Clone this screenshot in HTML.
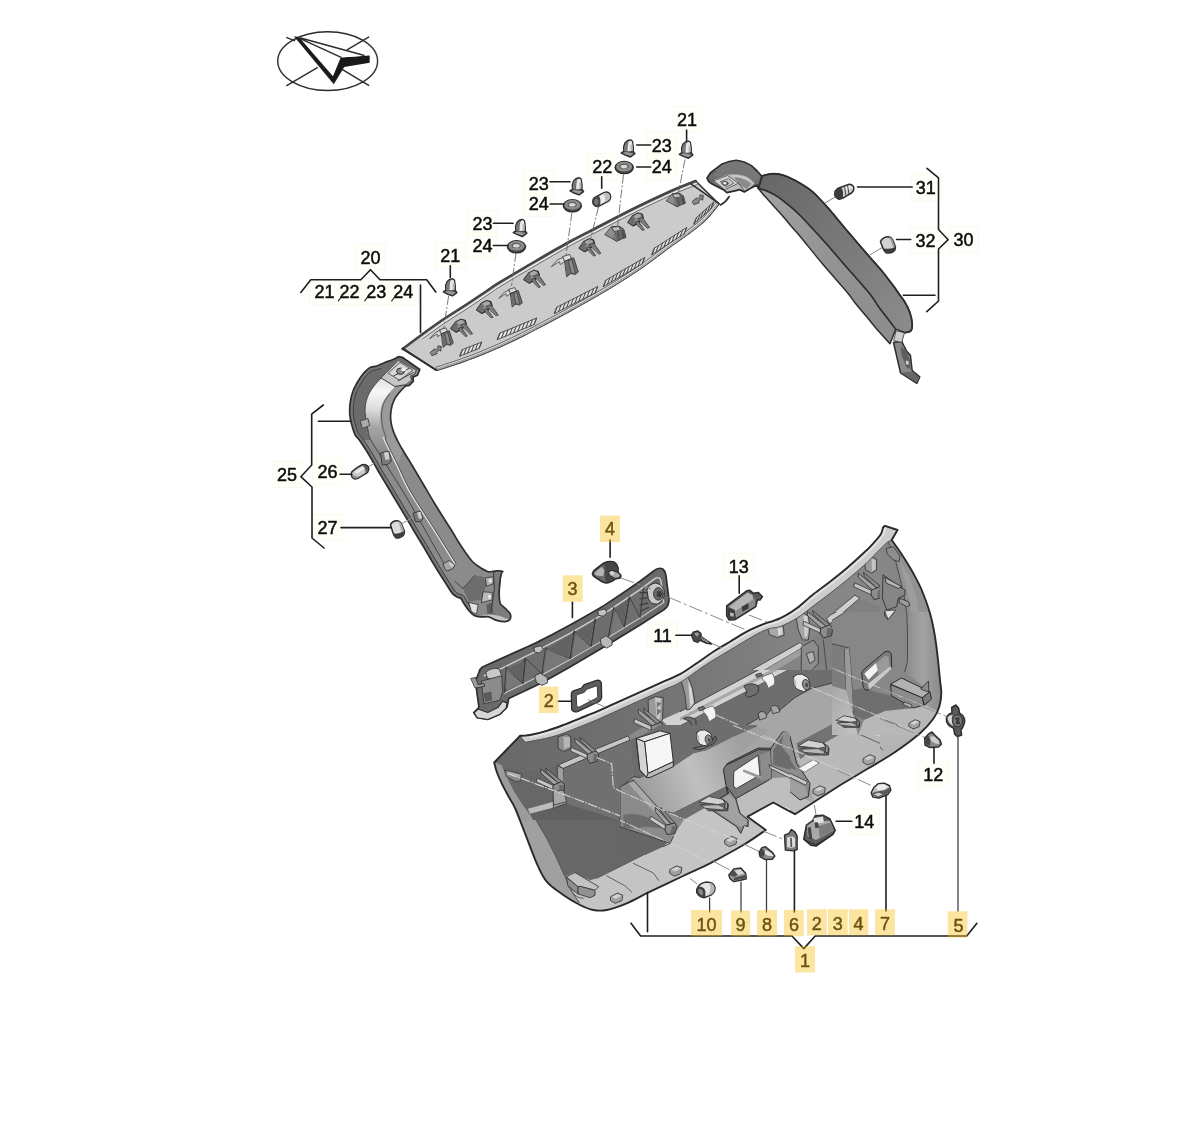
<!DOCTYPE html>
<html lang="en"><head><meta charset="utf-8"><title>Parts diagram</title>
<style>
html,body{margin:0;padding:0;background:#fff;}
body{width:1200px;height:1146px;overflow:hidden;font-family:"Liberation Sans",sans-serif;}
svg{display:block}
.ln{fill:none;stroke:#1e1e1e;stroke-width:1.6;stroke-linecap:round;stroke-linejoin:round}
.o{stroke:#2e2e2e;stroke-width:1.5;stroke-linejoin:round;stroke-linecap:round;vector-effect:non-scaling-stroke}
.t{stroke:#404040;stroke-width:0.9;stroke-linejoin:round;stroke-linecap:round;vector-effect:non-scaling-stroke}
path:not([fill]),ellipse:not([fill]){fill:none}
.n{stroke:none}
text{font-family:"Liberation Sans",sans-serif;font-size:18px;fill:#0c0c0c;text-anchor:middle;stroke:#0c0c0c;stroke-width:0.5px;stroke-linejoin:round}
.hl{fill:#f5be12;fill-opacity:0.4}
.fb{fill:#fffef2;fill-opacity:0.45;stroke:#f4f0d0;stroke-opacity:0.45;stroke-width:0.7}
</style></head><body>
<svg width="1200" height="1146" viewBox="0 0 1200 1146">
<rect width="1200" height="1146" fill="#fff"/>
<g id="art" style="filter:blur(0.45px)">
<!-- 00_compass.svg -->
<g transform="translate(260 20) scale(0.116667)">
<g fill="none" stroke="#2b2b2b" stroke-width="12">
<ellipse cx="580" cy="352" rx="428" ry="252"/>
<path d="M225 148 L300 178 M700 420 L935 562 M225 565 L495 405 M745 255 L935 145"/>
</g>
<path d="M290 140 L335 146 L625 480 L690 322 L940 305 L940 366 L722 402 L632 550 Z" fill="#1a1a1a"/>
<path d="M335 146 L625 480 L690 322 L890 306 Z" fill="#fff"/>
<path d="M340 152 L895 304 M340 158 L700 322" stroke="#2b2b2b" stroke-width="12" fill="none"/>
</g>

<!-- 05_fb.svg -->
<g id="fb"><rect class="fb" x="355.5" y="244.0" width="30" height="26"/><rect class="fb" x="309.5" y="278.8" width="30" height="26"/><rect class="fb" x="334.5" y="278.8" width="30" height="26"/><rect class="fb" x="361.2" y="278.8" width="30" height="26"/><rect class="fb" x="388.3" y="278.8" width="30" height="26"/><rect class="fb" x="435.3" y="242.2" width="30" height="26"/><rect class="fb" x="467.5" y="210.5" width="30" height="26"/><rect class="fb" x="467.5" y="232.2" width="30" height="26"/><rect class="fb" x="523.8" y="170.5" width="30" height="26"/><rect class="fb" x="523.8" y="190.5" width="30" height="26"/><rect class="fb" x="587.2" y="153.8" width="30" height="26"/><rect class="fb" x="672.0" y="106.2" width="30" height="26"/><rect class="fb" x="646.7" y="132.2" width="30" height="26"/><rect class="fb" x="646.7" y="153.8" width="30" height="26"/><rect class="fb" x="910.8" y="174.8" width="30" height="26"/><rect class="fb" x="910.5" y="227.2" width="30" height="26"/><rect class="fb" x="948.6" y="226.7" width="30" height="26"/><rect class="fb" x="272.0" y="461.3" width="30" height="26"/><rect class="fb" x="312.5" y="458.8" width="30" height="26"/><rect class="fb" x="312.5" y="514.5" width="30" height="26"/><rect class="fb" x="647.5" y="622.0" width="30" height="26"/><rect class="fb" x="723.8" y="553.2" width="30" height="26"/><rect class="fb" x="918.3" y="761.2" width="30" height="26"/><rect class="fb" x="849.2" y="808.8" width="30" height="26"/></g>

<!-- 10_panel20.svg -->
<path class="o" fill="#cbcbcb" d="M402.6 349.0 C405.6 346.8 414.2 340.2 420.7 335.5 C427.2 330.8 434.3 325.5 441.7 320.5 C449.1 315.5 457.6 310.3 465.0 305.5 C472.4 300.7 480.2 295.4 486.0 291.5 C491.8 287.6 491.8 287.2 500.0 282.2 C508.2 277.2 523.3 268.3 535.0 261.5 C546.7 254.7 559.2 247.4 570.0 241.5 C580.8 235.6 589.2 231.6 600.0 226.0 C610.8 220.4 623.3 213.8 635.0 208.0 C646.7 202.2 659.9 196.0 670.0 191.5 C680.1 187.0 691.4 182.8 695.7 181.0 L719 204 L719.0 204.0 C716.7 206.8 710.2 215.4 705.0 220.5 C699.8 225.6 693.3 230.1 687.5 234.5 C681.7 238.9 677.9 241.2 670.0 247.0 C662.1 252.8 650.8 261.6 640.0 269.0 C629.2 276.4 616.7 284.2 605.0 291.2 C593.3 298.2 581.7 304.6 570.0 311.0 C558.3 317.4 544.7 324.6 535.0 329.7 C525.3 334.8 519.8 337.6 512.0 341.3 C504.2 345.0 495.8 348.7 488.0 352.0 C480.2 355.3 473.5 357.9 465.0 361.0 C456.5 364.1 441.7 368.8 437.0 370.3 L436 370 Z"/>
<path class="t" fill="#e4e4e4" d="M719.0 204.0 C716.7 206.8 710.2 215.4 705.0 220.5 C699.8 225.6 693.3 230.1 687.5 234.5 C681.7 238.9 677.9 241.2 670.0 247.0 C662.1 252.8 650.8 261.6 640.0 269.0 C629.2 276.4 616.7 284.2 605.0 291.2 C593.3 298.2 581.7 304.6 570.0 311.0 C558.3 317.4 544.7 324.6 535.0 329.7 C525.3 334.8 519.8 337.6 512.0 341.3 C504.2 345.0 495.8 348.7 488.0 352.0 C480.2 355.3 473.5 357.9 465.0 361.0 C456.5 364.1 441.7 368.8 437.0 370.3 L436.0 367.3 C440.6 365.7 455.5 361.0 463.9 358.0 C472.4 355.0 479.0 352.3 486.8 349.0 C494.5 345.8 502.8 342.1 510.6 338.4 C518.4 334.7 523.9 331.9 533.5 326.9 C543.2 321.8 556.8 314.6 568.5 308.2 C580.1 301.8 591.7 295.4 603.4 288.5 C615.0 281.5 627.4 273.7 638.2 266.4 C649.0 259.0 660.2 250.1 668.1 244.4 C676.0 238.7 679.8 236.3 685.6 231.9 C691.3 227.6 697.6 223.2 702.8 218.2 C707.9 213.2 714.3 204.6 716.6 201.9 Z" style="stroke:#555"/>
<path class="t" fill="none" d="M718.0 203.2 C715.7 205.9 709.3 214.5 704.1 219.6 C698.9 224.6 692.5 229.1 686.7 233.5 C680.9 237.9 677.1 240.2 669.2 245.9 C661.3 251.7 650.1 260.6 639.3 267.9 C628.5 275.3 616.0 283.1 604.3 290.1 C592.7 297.1 581.0 303.5 569.4 309.9 C557.7 316.3 544.1 323.5 534.4 328.5 C524.7 333.6 519.3 336.4 511.4 340.1 C503.6 343.8 495.3 347.5 487.5 350.8 C479.7 354.1 473.0 356.7 464.6 359.8 C456.1 362.8 441.3 367.5 436.6 369.1" style="stroke:#8a8a8a;stroke-width:1"/>
<path class="o" fill="none" d="M402.6 349.0 C405.6 346.8 414.2 340.2 420.7 335.5 C427.2 330.8 434.3 325.5 441.7 320.5 C449.1 315.5 457.6 310.3 465.0 305.5 C472.4 300.7 480.2 295.4 486.0 291.5 C491.8 287.6 491.8 287.2 500.0 282.2 C508.2 277.2 523.3 268.3 535.0 261.5 C546.7 254.7 559.2 247.4 570.0 241.5 C580.8 235.6 589.2 231.6 600.0 226.0 C610.8 220.4 623.3 213.8 635.0 208.0 C646.7 202.2 659.9 196.0 670.0 191.5 C680.1 187.0 691.4 182.8 695.7 181.0" style="stroke-width:2.6;stroke:#454545"/>
<path class="t" fill="none" d="M422.2 337.6 C425.7 335.1 435.8 327.6 443.2 322.7 C450.5 317.7 459.0 312.5 466.4 307.7 C473.8 302.8 481.6 297.5 487.4 293.7 C493.3 289.8 493.2 289.4 501.4 284.4 C509.5 279.4 524.7 270.5 536.3 263.7 C548.0 257.0 560.4 249.7 571.2 243.8 C582.1 237.9 590.4 233.9 601.2 228.3 C612.0 222.7 624.5 216.1 636.1 210.3 C647.8 204.6 661.0 198.4 671.1 193.9 C681.1 189.4 692.4 185.2 696.7 183.4" style="stroke:#eee;stroke-width:1.1"/>
<path class="t" fill="none" d="M422.9 338.6 C426.4 336.1 436.5 328.6 443.8 323.6 C451.2 318.7 459.7 313.5 467.1 308.7 C474.5 303.8 482.3 298.5 488.1 294.7 C493.9 290.8 493.9 290.4 502.0 285.4 C510.1 280.5 525.3 271.6 536.9 264.8 C548.5 258.0 561.0 250.7 571.8 244.8 C582.6 238.9 590.9 234.9 601.7 229.4 C612.6 223.8 625.0 217.1 636.7 211.4 C648.3 205.7 661.5 199.5 671.5 195.0 C681.6 190.5 692.9 186.3 697.1 184.5" style="stroke:#555;stroke-width:0.8"/>
<path class="o" fill="none" d="M691 183.8 L719 203.7"/>
<path class="o" fill="none" d="M720.5 205 Q726 202 729.2 196.5" style="stroke-width:1.6"/>
<path class="o" fill="none" d="M402.6 348.3 L436 370" style="stroke-width:1.8"/>
<g transform="translate(430.0 327.3) scale(0.1167)"><path class="t" fill="#d8d8d8" d="M0 95 L45 45 L90 25 L105 55 L65 80 L60 60 Z" style="stroke:#555"/>
<path class="o" fill="#dcdcdc" d="M85 20 L135 5 L150 35 L100 55 Z" style="stroke-width:0.8"/>
<path class="o" fill="#6e6e6e" d="M100 55 L150 35 L165 30 L200 135 L175 155 L145 145 L115 170 Z" style="stroke-width:0.8"/>
<path class="n" fill="#8c8c8c" d="M128 60 L150 52 L172 140 L150 140 Z"/>
<path class="t" d="M125 50 L148 150 M152 40 L180 145" style="stroke:#4a4a4a"/></g>
<g transform="translate(451.0 319.2) scale(0.1167)"><path class="o" fill="#8a8a8a" d="M0 80 L40 25 L85 2 L120 10 L130 40 L95 80 L45 110 Z"/>
<path class="n" fill="#6c6c6c" d="M0 80 L40 25 L60 40 L45 110 Z"/>
<path class="n" fill="#a8a8a8" d="M45 25 L85 5 L115 15 L95 40 L65 45 Z"/>
<path class="o" fill="#7a7a7a" d="M85 50 L125 40 L185 125 L168 130 Z" style="stroke-width:0.7"/>
<path class="o" fill="#777" d="M60 80 L88 70 L140 145 L125 148 Z" style="stroke-width:0.7"/></g>
<g transform="translate(476.7 300.5) scale(0.1167)"><path class="o" fill="#8a8a8a" d="M0 80 L40 25 L85 2 L120 10 L130 40 L95 80 L45 110 Z"/>
<path class="n" fill="#6c6c6c" d="M0 80 L40 25 L60 40 L45 110 Z"/>
<path class="n" fill="#a8a8a8" d="M45 25 L85 5 L115 15 L95 40 L65 45 Z"/>
<path class="o" fill="#7a7a7a" d="M85 50 L125 40 L185 125 L168 130 Z" style="stroke-width:0.7"/>
<path class="o" fill="#777" d="M60 80 L88 70 L140 145 L125 148 Z" style="stroke-width:0.7"/></g>
<g transform="translate(499.0 287.0) scale(0.1167)"><path class="t" fill="#d8d8d8" d="M0 95 L45 45 L90 25 L105 55 L65 80 L60 60 Z" style="stroke:#555"/>
<path class="o" fill="#dcdcdc" d="M85 20 L135 5 L150 35 L100 55 Z" style="stroke-width:0.8"/>
<path class="o" fill="#6e6e6e" d="M100 55 L150 35 L165 30 L200 135 L175 155 L145 145 L115 170 Z" style="stroke-width:0.8"/>
<path class="n" fill="#8c8c8c" d="M128 60 L150 52 L172 140 L150 140 Z"/>
<path class="t" d="M125 50 L148 150 M152 40 L180 145" style="stroke:#4a4a4a"/></g>
<g transform="translate(524.0 270.2) scale(0.1167)"><path class="o" fill="#8a8a8a" d="M0 80 L40 25 L85 2 L120 10 L130 40 L95 80 L45 110 Z"/>
<path class="n" fill="#6c6c6c" d="M0 80 L40 25 L60 40 L45 110 Z"/>
<path class="n" fill="#a8a8a8" d="M45 25 L85 5 L115 15 L95 40 L65 45 Z"/>
<path class="o" fill="#7a7a7a" d="M85 50 L125 40 L185 125 L168 130 Z" style="stroke-width:0.7"/>
<path class="o" fill="#777" d="M60 80 L88 70 L140 145 L125 148 Z" style="stroke-width:0.7"/></g>
<g transform="translate(551.5 253.8) scale(0.1342)"><path class="t" fill="#d8d8d8" d="M0 95 L45 45 L90 25 L105 55 L65 80 L60 60 Z" style="stroke:#555"/>
<path class="o" fill="#dcdcdc" d="M85 20 L135 5 L150 35 L100 55 Z" style="stroke-width:0.8"/>
<path class="o" fill="#6e6e6e" d="M100 55 L150 35 L165 30 L200 135 L175 155 L145 145 L115 170 Z" style="stroke-width:0.8"/>
<path class="n" fill="#8c8c8c" d="M128 60 L150 52 L172 140 L150 140 Z"/>
<path class="t" d="M125 50 L148 150 M152 40 L180 145" style="stroke:#4a4a4a"/></g>
<g transform="translate(579.3 238.7) scale(0.1167)"><path class="o" fill="#8a8a8a" d="M0 80 L40 25 L85 2 L120 10 L130 40 L95 80 L45 110 Z"/>
<path class="n" fill="#6c6c6c" d="M0 80 L40 25 L60 40 L45 110 Z"/>
<path class="n" fill="#a8a8a8" d="M45 25 L85 5 L115 15 L95 40 L65 45 Z"/>
<path class="o" fill="#7a7a7a" d="M85 50 L125 40 L185 125 L168 130 Z" style="stroke-width:0.7"/>
<path class="o" fill="#777" d="M60 80 L88 70 L140 145 L125 148 Z" style="stroke-width:0.7"/></g>
<g transform="translate(605.0 226.2) scale(0.1167)"><path class="o" fill="#7d7d7d" d="M0 70 L55 5 L120 0 L160 25 L180 95 L140 110 L100 130 L60 105 Z" style="stroke-width:0.9"/>
<path class="n" fill="#8e8e8e" d="M2 70 L55 8 L80 45 L62 103 Z"/>
<path class="o" fill="#bdbdbd" d="M60 8 L120 3 L135 35 L80 45 Z" style="stroke-width:0.7"/>
<path class="n" fill="#5c5c5c" d="M135 36 L160 27 L178 94 L142 108 Z"/>
<path class="n" fill="#6a6a6a" d="M80 46 L135 36 L142 108 L100 128 Z"/>
<path class="t" d="M110 42 L120 118 M150 32 L165 100" style="stroke:#444"/></g>
<g transform="translate(628.0 213.0) scale(0.1167)"><path class="o" fill="#8a8a8a" d="M0 80 L40 25 L85 2 L120 10 L130 40 L95 80 L45 110 Z"/>
<path class="n" fill="#6c6c6c" d="M0 80 L40 25 L60 40 L45 110 Z"/>
<path class="n" fill="#a8a8a8" d="M45 25 L85 5 L115 15 L95 40 L65 45 Z"/>
<path class="o" fill="#7a7a7a" d="M85 50 L125 40 L185 125 L168 130 Z" style="stroke-width:0.7"/>
<path class="o" fill="#777" d="M60 80 L88 70 L140 145 L125 148 Z" style="stroke-width:0.7"/></g>
<g transform="translate(666.5 193.2) scale(0.1050)"><path class="o" fill="#7d7d7d" d="M0 70 L55 5 L120 0 L160 25 L180 95 L140 110 L100 130 L60 105 Z" style="stroke-width:0.9"/>
<path class="n" fill="#8e8e8e" d="M2 70 L55 8 L80 45 L62 103 Z"/>
<path class="o" fill="#bdbdbd" d="M60 8 L120 3 L135 35 L80 45 Z" style="stroke-width:0.7"/>
<path class="n" fill="#5c5c5c" d="M135 36 L160 27 L178 94 L142 108 Z"/>
<path class="n" fill="#6a6a6a" d="M80 46 L135 36 L142 108 L100 128 Z"/>
<path class="t" d="M110 42 L120 118 M150 32 L165 100" style="stroke:#444"/></g>
<path class="o" fill="#8a8a8a" style="stroke-width:0.8" d="M430.5 352.3 l4 -3.5 l0.8 1.2 l3 -2.6 l-0.6 -1.5 l3.6 0.6 l-0.6 4.8 l-1.2 -1.4 l-3 2.6 l0.7 1.2 l-5 1.8 Z"/>
<path class="o" fill="#8a8a8a" style="stroke-width:0.8" d="M692.5 201.3 l4 -3.5 l0.8 1.2 l3 -2.6 l-0.6 -1.5 l3.6 0.6 l-0.6 4.8 l-1.2 -1.4 l-3 2.6 l0.7 1.2 l-5 1.8 Z"/>
<path class="t" fill="#e6e6e6" d="M460.0 356.0 L479.0 348.5 l2.6 -6.4 L462.6 349.6 Z" style="stroke:#444;stroke-width:0.9"/>
<path class="t" d="M460.0 356.0 l2.6 -6.4 M463.8 354.5 l2.6 -6.4 M467.6 353.0 l2.6 -6.4 M471.4 351.5 l2.6 -6.4 M475.2 350.0 l2.6 -6.4 M479.0 348.5 l2.6 -6.4 " style="stroke:#4a4a4a;stroke-width:1.05"/>
<path class="t" fill="#e6e6e6" d="M497.5 339.5 L534.0 324.5 l2.6 -6.4 L500.1 333.1 Z" style="stroke:#444;stroke-width:0.9"/>
<path class="t" d="M497.5 339.5 l2.6 -6.4 M501.6 337.8 l2.6 -6.4 M505.6 336.2 l2.6 -6.4 M509.7 334.5 l2.6 -6.4 M513.7 332.8 l2.6 -6.4 M517.8 331.2 l2.6 -6.4 M521.8 329.5 l2.6 -6.4 M525.9 327.8 l2.6 -6.4 M529.9 326.2 l2.6 -6.4 M534.0 324.5 l2.6 -6.4 " style="stroke:#4a4a4a;stroke-width:1.05"/>
<path class="t" fill="#e6e6e6" d="M554.5 313.5 L595.0 293.0 l2.6 -6.4 L557.1 307.1 Z" style="stroke:#444;stroke-width:0.9"/>
<path class="t" d="M554.5 313.5 l2.6 -6.4 M558.5 311.4 l2.6 -6.4 M562.6 309.4 l2.6 -6.4 M566.6 307.4 l2.6 -6.4 M570.7 305.3 l2.6 -6.4 M574.8 303.2 l2.6 -6.4 M578.8 301.2 l2.6 -6.4 M582.9 299.1 l2.6 -6.4 M586.9 297.1 l2.6 -6.4 M591.0 295.1 l2.6 -6.4 M595.0 293.0 l2.6 -6.4 " style="stroke:#4a4a4a;stroke-width:1.05"/>
<path class="t" fill="#e6e6e6" d="M603.5 286.5 L642.0 264.0 l2.6 -6.4 L606.1 280.1 Z" style="stroke:#444;stroke-width:0.9"/>
<path class="t" d="M603.5 286.5 l2.6 -6.4 M607.4 284.2 l2.6 -6.4 M611.2 282.0 l2.6 -6.4 M615.0 279.8 l2.6 -6.4 M618.9 277.5 l2.6 -6.4 M622.8 275.2 l2.6 -6.4 M626.6 273.0 l2.6 -6.4 M630.5 270.8 l2.6 -6.4 M634.3 268.5 l2.6 -6.4 M638.1 266.2 l2.6 -6.4 M642.0 264.0 l2.6 -6.4 " style="stroke:#4a4a4a;stroke-width:1.05"/>
<path class="t" fill="#e6e6e6" d="M652.0 254.5 L684.0 234.0 l2.6 -6.4 L654.6 248.1 Z" style="stroke:#444;stroke-width:0.9"/>
<path class="t" d="M652.0 254.5 l2.6 -6.4 M656.0 251.9 l2.6 -6.4 M660.0 249.4 l2.6 -6.4 M664.0 246.8 l2.6 -6.4 M668.0 244.2 l2.6 -6.4 M672.0 241.7 l2.6 -6.4 M676.0 239.1 l2.6 -6.4 M680.0 236.6 l2.6 -6.4 M684.0 234.0 l2.6 -6.4 " style="stroke:#4a4a4a;stroke-width:1.05"/>
<path class="t" fill="#e6e6e6" d="M694.0 224.0 L711.0 208.5 l2.6 -6.4 L696.6 217.6 Z" style="stroke:#444;stroke-width:0.9"/>
<path class="t" d="M694.0 224.0 l2.6 -6.4 M697.4 220.9 l2.6 -6.4 M700.8 217.8 l2.6 -6.4 M704.2 214.7 l2.6 -6.4 M707.6 211.6 l2.6 -6.4 M711.0 208.5 l2.6 -6.4 " style="stroke:#4a4a4a;stroke-width:1.05"/>

<!-- 20_small_top.svg -->
<defs><linearGradient id="cyl" x1="0" y1="0" x2="1" y2="0"><stop offset="0" stop-color="#9a9a9a"/><stop offset="0.45" stop-color="#f4f4f4"/><stop offset="1" stop-color="#8a8a8a"/></linearGradient></defs>
<g fill="none" stroke="#6a6a6a" stroke-width="0.9" stroke-dasharray="9 2 2 2">
<path d="M448.6 296 L443.8 328"/>
<path d="M516 253 L511.5 286"/>
<path d="M572 212.5 L566 255"/>
<path d="M598.5 207 L590 241"/>
<path d="M623.5 174.5 L617.5 227"/>
<path d="M685 159.5 L678.5 192.5"/>
</g>
<g transform="translate(443.3 278.8) scale(0.1167)"><path class="o" fill="#4e4e4e" d="M0 112 L22 98 L20 60 L32 25 L55 5 L80 0 L95 12 L102 60 L102 98 L116 118 L78 146 L40 132 Z"/>
<path class="n" fill="#7a7a7a" d="M24 95 L24 60 L36 28 L55 10 L62 14 L50 50 L48 100 Z"/>
<path class="n" fill="#e8e8e8" d="M62 14 L80 5 L92 16 L96 60 L96 92 L70 98 L52 98 L54 50 Z"/>
<path class="n" fill="#b5b5b5" d="M80 40 L96 40 L96 92 L80 96 Z"/>
<path class="n" fill="#9a9a9a" d="M10 112 L40 104 L78 112 L106 116 L78 138 L42 126 Z"/></g>
<g transform="translate(513.3 219.5) scale(0.1167)"><path class="o" fill="#4e4e4e" d="M0 112 L22 98 L20 60 L32 25 L55 5 L80 0 L95 12 L102 60 L102 98 L116 118 L78 146 L40 132 Z"/>
<path class="n" fill="#7a7a7a" d="M24 95 L24 60 L36 28 L55 10 L62 14 L50 50 L48 100 Z"/>
<path class="n" fill="#e8e8e8" d="M62 14 L80 5 L92 16 L96 60 L96 92 L70 98 L52 98 L54 50 Z"/>
<path class="n" fill="#b5b5b5" d="M80 40 L96 40 L96 92 L80 96 Z"/>
<path class="n" fill="#9a9a9a" d="M10 112 L40 104 L78 112 L106 116 L78 138 L42 126 Z"/></g>
<g transform="translate(570.0 177.8) scale(0.1167)"><path class="o" fill="#4e4e4e" d="M0 112 L22 98 L20 60 L32 25 L55 5 L80 0 L95 12 L102 60 L102 98 L116 118 L78 146 L40 132 Z"/>
<path class="n" fill="#7a7a7a" d="M24 95 L24 60 L36 28 L55 10 L62 14 L50 50 L48 100 Z"/>
<path class="n" fill="#e8e8e8" d="M62 14 L80 5 L92 16 L96 60 L96 92 L70 98 L52 98 L54 50 Z"/>
<path class="n" fill="#b5b5b5" d="M80 40 L96 40 L96 92 L80 96 Z"/>
<path class="n" fill="#9a9a9a" d="M10 112 L40 104 L78 112 L106 116 L78 138 L42 126 Z"/></g>
<g transform="translate(621.3 139.9) scale(0.1167)"><path class="o" fill="#4e4e4e" d="M0 112 L22 98 L20 60 L32 25 L55 5 L80 0 L95 12 L102 60 L102 98 L116 118 L78 146 L40 132 Z"/>
<path class="n" fill="#7a7a7a" d="M24 95 L24 60 L36 28 L55 10 L62 14 L50 50 L48 100 Z"/>
<path class="n" fill="#e8e8e8" d="M62 14 L80 5 L92 16 L96 60 L96 92 L70 98 L52 98 L54 50 Z"/>
<path class="n" fill="#b5b5b5" d="M80 40 L96 40 L96 92 L80 96 Z"/>
<path class="n" fill="#9a9a9a" d="M10 112 L40 104 L78 112 L106 116 L78 138 L42 126 Z"/></g>
<g transform="translate(679.3 141.2) scale(0.1167)"><path class="o" fill="#4e4e4e" d="M0 112 L22 98 L20 60 L32 25 L55 5 L80 0 L95 12 L102 60 L102 98 L116 118 L78 146 L40 132 Z"/>
<path class="n" fill="#7a7a7a" d="M24 95 L24 60 L36 28 L55 10 L62 14 L50 50 L48 100 Z"/>
<path class="n" fill="#e8e8e8" d="M62 14 L80 5 L92 16 L96 60 L96 92 L70 98 L52 98 L54 50 Z"/>
<path class="n" fill="#b5b5b5" d="M80 40 L96 40 L96 92 L80 96 Z"/>
<path class="n" fill="#9a9a9a" d="M10 112 L40 104 L78 112 L106 116 L78 138 L42 126 Z"/></g>
<ellipse cx="516.5" cy="246.8" rx="9" ry="6" fill="#4a4a4a" class="o"/>
<ellipse cx="516.5" cy="245.9" rx="8" ry="4.9" fill="#8c8c8c"/>
<ellipse cx="516.2" cy="245.5" rx="4.6" ry="2.6" fill="#5a5a5a"/>
<ellipse cx="516.3" cy="245.8" rx="3.4" ry="1.8" fill="#d8d8d8"/>
<ellipse cx="572.4" cy="205.8" rx="9" ry="6" fill="#4a4a4a" class="o"/>
<ellipse cx="572.4" cy="204.9" rx="8" ry="4.9" fill="#8c8c8c"/>
<ellipse cx="572.1" cy="204.5" rx="4.6" ry="2.6" fill="#5a5a5a"/>
<ellipse cx="572.2" cy="204.8" rx="3.4" ry="1.8" fill="#d8d8d8"/>
<ellipse cx="624.2" cy="167.6" rx="9" ry="6" fill="#4a4a4a" class="o"/>
<ellipse cx="624.2" cy="166.7" rx="8" ry="4.9" fill="#8c8c8c"/>
<ellipse cx="623.9" cy="166.3" rx="4.6" ry="2.6" fill="#5a5a5a"/>
<ellipse cx="624.0" cy="166.6" rx="3.4" ry="1.8" fill="#d8d8d8"/>
<g transform="translate(592.7 191.8) scale(0.1167)"><path class="o" fill="#eee" d="M15 50 L100 5 Q135 -5 150 25 Q160 60 135 80 L50 125 Q15 130 3 100 Q-5 70 15 50 Z"/>
<path class="n" fill="#bdbdbd" d="M90 12 Q130 0 146 28 Q154 58 132 76 L100 92 Q118 60 90 12Z"/>
<path class="n" fill="#4a4a4a" d="M15 50 L50 32 Q75 60 62 118 L50 125 Q15 130 3 100 Q-5 70 15 50 Z"/>
<path class="n" fill="#777" d="M22 62 Q40 55 48 75 Q52 100 40 112 Q22 112 15 95 Q12 75 22 62Z"/></g>
<g class="ln">
<path d="M493.3 223.3 H513"/>
<path d="M493.3 245.5 H507.5"/>
<path d="M550 181.7 H570"/>
<path d="M550 204 H563.5"/>
<path d="M601.7 176.7 V188.3"/>
<path d="M636.7 145 H650.7"/>
<path d="M636.7 167 H650.7"/>
<path d="M686.6 130 V140.5"/>
</g>

<!-- 30_arm30.svg -->
<defs><linearGradient id="a30t" gradientUnits="userSpaceOnUse" x1="765" y1="175" x2="905" y2="330"><stop offset="0" stop-color="#676767"/><stop offset="0.35" stop-color="#747474"/><stop offset="1" stop-color="#8b8b8b"/></linearGradient>
<linearGradient id="a30s" gradientUnits="userSpaceOnUse" x1="765" y1="190" x2="890" y2="340"><stop offset="0" stop-color="#a0a0a0"/><stop offset="0.5" stop-color="#939393"/><stop offset="1" stop-color="#8d8d8d"/></linearGradient></defs>
<g transform="translate(820.00 290.00) scale(0.11667)"><path class="o" fill="#8a8a8a" d="M630 450 L690 710 L830 800 L855 745 L790 690 L775 560 L740 520 L700 440 Z"/>
<path class="n" fill="#5e5e5e" d="M690 480 L745 530 L770 600 L775 680 L740 660 L700 560 Z"/>
<path class="n" fill="#cfcfcf" d="M735 605 L760 610 L760 640 L738 636 Z"/>
<path class="n" fill="#666" d="M700 712 L830 795 L850 750 L800 705 L760 700 Z"/>
<path class="o" fill="#cdcdcd" d="M655 350 L725 365 L700 450 L635 435 Z" style="stroke-width:0.8"/></g>
<path class="o" fill="url(#a30s)" d="M758.3 188.5 C759.5 188.8 762.6 189.2 765.3 190.3 C768.0 191.4 771.6 193.1 774.7 194.9 C777.8 196.7 779.8 197.9 784.0 201.3 C788.2 204.7 793.5 208.7 800.0 215.2 C806.5 221.7 815.5 231.6 823.3 240.3 C831.1 249.0 838.9 258.2 846.7 267.2 C854.5 276.1 864.7 287.5 870.0 294.0 C875.3 300.5 875.0 301.7 878.3 306.3 C881.6 310.9 887.1 317.7 890.0 321.5 C892.9 325.3 894.8 327.8 895.8 329.1 L890 343.7 L890.0 343.7 C888.0 341.6 882.2 335.3 878.3 330.8 C874.4 326.3 870.6 321.5 866.7 316.8 C862.8 312.1 858.3 307.0 855.0 302.8 C851.7 298.6 852.0 298.0 846.7 291.7 C841.4 285.4 831.1 274.1 823.3 264.8 C815.5 255.6 805.3 242.5 800.0 236.2 C794.7 229.8 794.5 229.9 791.7 226.7 C788.9 223.4 786.1 219.9 783.3 216.7 C780.5 213.5 777.8 210.6 775.0 207.5 C772.2 204.4 768.9 200.7 766.7 198.3 C764.5 195.9 763.4 194.7 762.0 193.0 C760.6 191.3 758.9 189.1 758.3 188.3 Z"/>
<path class="o" fill="url(#a30t)" d="M762.5 175.8 C763.9 175.5 768.0 174.1 770.8 173.8 C773.6 173.5 776.4 173.7 779.2 174.2 C782.0 174.7 784.7 175.6 787.5 176.7 C790.3 177.8 793.0 179.3 795.8 180.8 C798.6 182.3 801.4 184.0 804.2 185.8 C807.0 187.6 809.7 189.3 812.5 191.7 C815.3 194.1 818.0 197.1 820.8 200.0 C823.6 202.9 826.4 206.0 829.2 209.2 C832.0 212.4 834.7 215.9 837.5 219.2 C840.3 222.5 840.6 223.0 845.8 229.2 C851.0 235.3 862.8 249.2 868.8 256.1 C874.8 263.0 877.6 265.8 881.7 270.7 C885.8 275.6 890.3 281.8 893.3 285.8 C896.3 289.8 897.6 291.9 899.5 294.5 C901.4 297.1 902.8 298.6 904.5 301.5 C906.2 304.4 908.5 308.5 909.8 312.2 C911.1 315.9 912.0 320.7 912.2 323.8 C912.4 326.9 912.2 329.3 911.0 330.8 C909.8 332.3 906.2 332.3 905.2 332.6 L895.8 329.1 L895.8 329.1 C894.8 327.8 892.9 325.3 890.0 321.5 C887.1 317.7 881.6 310.9 878.3 306.3 C875.0 301.7 875.3 300.5 870.0 294.0 C864.7 287.5 854.5 276.1 846.7 267.2 C838.9 258.2 831.1 249.0 823.3 240.3 C815.5 231.6 806.5 221.7 800.0 215.2 C793.5 208.7 788.2 204.7 784.0 201.3 C779.8 197.9 777.8 196.7 774.7 194.9 C771.6 193.1 768.0 191.4 765.3 190.3 C762.6 189.2 759.5 188.8 758.3 188.5 Z"/>
<path class="o" fill="none" d="M762.5 175.8 C763.9 175.5 768.0 174.1 770.8 173.8 C773.6 173.5 776.4 173.7 779.2 174.2 C782.0 174.7 784.7 175.6 787.5 176.7 C790.3 177.8 793.0 179.3 795.8 180.8 C798.6 182.3 801.4 184.0 804.2 185.8 C807.0 187.6 809.7 189.3 812.5 191.7 C815.3 194.1 818.0 197.1 820.8 200.0 C823.6 202.9 826.4 206.0 829.2 209.2 C832.0 212.4 834.7 215.9 837.5 219.2 C840.3 222.5 840.6 223.0 845.8 229.2 C851.0 235.3 862.8 249.2 868.8 256.1 C874.8 263.0 877.6 265.8 881.7 270.7 C885.8 275.6 890.3 281.8 893.3 285.8 C896.3 289.8 897.6 291.9 899.5 294.5 C901.4 297.1 902.8 298.6 904.5 301.5 C906.2 304.4 908.5 308.5 909.8 312.2 C911.1 315.9 912.0 320.7 912.2 323.8 C912.4 326.9 912.2 329.3 911.0 330.8 C909.8 332.3 906.2 332.3 905.2 332.6" style="stroke-width:1.7"/>
<g transform="translate(700.00 150.00) scale(0.11667)"><path class="o" fill="#6d6d6d" d="M60 240 L90 195 L130 165 L190 120 Q250 92 310 88 Q380 95 440 135 L490 180 L530 225 L500 330 L490 300 L430 330 L380 360 L340 340 L300 350 L230 365 L200 340 L100 290 L75 270 Z" style="stroke-width:1.7"/>
<path class="n" fill="#777" d="M95 200 L190 128 Q250 100 310 96 Q380 103 436 140 L520 228 L470 285 Q440 240 380 215 Q300 195 220 208 L140 232 Z"/>
<path class="n" fill="#bdbdbd" d="M105 262 L225 212 Q300 200 380 220 Q440 245 468 288 L430 322 L380 350 L340 330 L300 340 L232 356 L205 332 Z"/>
<path class="t" fill="#d2d2d2" d="M120 262 L235 218 L330 285 L215 338 Z" style="stroke:#555"/>
<path class="t" fill="#c4c4c4" d="M175 270 L245 245 L290 285 L225 318 Z" style="stroke:#666"/>
<ellipse cx="215" cy="286" rx="26" ry="17" fill="#8a8a8a" class="t" style="stroke:#444"/>
<ellipse cx="212" cy="284" rx="13" ry="9" fill="#f2f2f2"/>
<path class="t" d="M330 285 L380 350 M105 262 L120 262 M100 205 L125 185 L135 192" style="stroke:#444"/>
<path class="n" fill="#8a8a8a" d="M300 228 Q380 240 440 290 L400 335 L345 300 L300 245 Z"/>
<path class="n" fill="#c9c9c9" d="M280 215 Q360 215 440 262 L450 280 Q380 240 300 232 Z"/></g>

<!-- 40_arm25.svg -->
<defs><linearGradient id="a25l" gradientUnits="userSpaceOnUse" x1="385" y1="378" x2="378" y2="450"><stop offset="0" stop-color="#dedede"/><stop offset="0.2" stop-color="#f7f7f7"/><stop offset="0.45" stop-color="#dadada"/><stop offset="0.7" stop-color="#a4a4a4"/><stop offset="1" stop-color="#8c8c8c"/></linearGradient></defs>
<path class="n" fill="#8b8b8b" d="M398.3 356.7 C397.4 357.2 395.2 358.6 393.0 359.6 C390.8 360.6 387.6 361.4 384.8 362.5 C382.1 363.6 379.2 365.1 376.7 366.0 C374.1 366.9 371.8 366.6 369.7 367.8 C367.5 368.9 365.8 370.8 363.8 373.0 C361.9 375.2 359.8 378.1 358.0 381.2 C356.2 384.3 354.1 388.0 352.8 391.7 C351.4 395.4 350.6 399.4 350.1 403.3 C349.6 407.2 349.6 411.5 349.8 415.0 C350.1 418.5 350.7 421.0 351.6 424.3 C352.5 427.6 353.8 432.2 355.1 434.8 C356.4 437.4 356.9 436.6 359.3 440.0 C361.6 443.4 366.0 449.9 369.2 455.2 C372.4 460.4 375.2 465.9 378.5 471.5 C381.8 477.1 385.5 483.2 389.0 489.0 C392.5 494.8 396.0 500.7 399.5 506.5 C403.0 512.3 407.7 520.1 410.0 524.0 C412.3 527.9 411.2 526.3 413.4 530.0 C415.6 533.7 419.7 540.3 423.3 546.3 C426.9 552.4 431.1 559.8 435.0 566.2 C438.9 572.6 443.8 580.3 446.7 584.8 C449.6 589.4 450.8 591.5 452.5 593.6 C454.3 595.6 455.8 596.3 457.2 597.1 C458.5 597.9 459.6 597.3 460.7 598.3 C461.7 599.2 462.2 600.9 463.6 602.9 C464.9 605.0 467.0 608.4 468.8 610.5 C470.7 612.6 472.5 614.7 474.7 615.8 C476.8 616.8 479.3 616.7 481.7 616.9 C484.0 617.1 486.1 616.3 488.7 616.9 C491.2 617.5 494.1 619.6 496.8 620.4 C499.6 621.2 502.9 621.7 505.0 621.6 C507.1 621.5 508.8 621.1 509.7 619.8 C510.5 618.6 511.0 615.9 510.3 614.0 C509.5 612.1 506.7 609.9 505.0 608.2 C503.4 606.4 501.3 605.6 500.3 603.5 C499.4 601.4 499.3 598.8 499.2 595.3 C499.1 591.8 499.4 586.2 499.8 582.5 C500.1 578.8 501.0 575.0 501.5 573.2 C502.0 571.3 503.4 571.8 502.7 571.4 C501.9 571.0 497.8 570.9 496.8 570.8 L488.7 572 L488.7 572.0 C487.5 571.4 484.4 570.3 481.7 568.5 C478.9 566.8 475.1 564.2 472.3 561.5 C469.6 558.8 467.7 555.5 465.3 552.2 C463.0 548.9 460.7 545.4 458.3 541.7 C456.0 538.0 455.1 536.1 451.3 530.0 C447.6 523.9 440.2 512.8 435.7 505.3 C431.1 497.9 427.9 492.1 424.0 485.5 C420.1 478.9 415.8 471.5 412.3 465.7 C408.8 459.8 405.5 454.8 403.0 450.5 C400.5 446.2 398.8 443.4 397.2 440.0 C395.5 436.6 394.1 433.6 393.0 430.2 C391.9 426.8 391.0 423.2 390.7 419.7 C390.4 416.2 390.7 412.5 391.3 409.2 C391.8 405.9 392.7 402.8 394.2 399.8 C395.6 396.9 398.1 394.0 400.0 391.7 C401.9 389.3 404.9 386.8 405.8 385.8 L409.3 385.3 L413.4 381.2 L412.8 377.1 L417.5 375.3 L419.8 369.5 L402.3 357.3 Z"/>
<path class="n" fill="#6b6b6b" d="M398.3 356.7 C397.4 357.2 395.2 358.6 393.0 359.6 C390.8 360.6 387.6 361.4 384.8 362.5 C382.1 363.6 379.2 365.1 376.7 366.0 C374.1 366.9 371.8 366.6 369.7 367.8 C367.5 368.9 365.8 370.8 363.8 373.0 C361.9 375.2 359.8 378.1 358.0 381.2 C356.2 384.3 354.1 388.0 352.8 391.7 C351.4 395.4 350.6 399.4 350.1 403.3 C349.6 407.2 349.6 411.5 349.8 415.0 C350.1 418.5 350.7 421.0 351.6 424.3 C352.5 427.6 353.8 432.2 355.1 434.8 C356.4 437.4 358.6 439.1 359.3 440.0 L370.9 440.0 C370.5 438.8 369.3 435.7 368.5 432.5 C367.7 429.3 366.8 424.7 366.2 420.8 C365.6 416.9 364.8 413.1 365.0 409.2 C365.2 405.3 366.0 401.2 367.3 397.5 C368.7 393.8 370.8 390.3 373.2 387.0 C375.5 383.7 380.0 379.2 381.3 377.7 Z"/>
<path class="n" fill="#767676" d="M384.8 362.5 C383.5 363.1 379.2 365.1 376.7 366.0 C374.1 366.9 371.8 366.6 369.7 367.8 C367.5 368.9 365.8 370.8 363.8 373.0 C361.9 375.2 359.8 378.1 358.0 381.2 C356.2 384.3 354.1 388.0 352.8 391.7 C351.4 395.4 350.6 399.4 350.1 403.3 C349.6 407.2 349.6 411.5 349.8 415.0 C350.1 418.5 350.7 421.0 351.6 424.3 C352.5 427.6 353.8 432.2 355.1 434.8 C356.4 437.4 356.9 436.6 359.3 440.0 C361.6 443.4 366.0 449.9 369.2 455.2 C372.4 460.4 375.2 465.9 378.5 471.5 C381.8 477.1 385.5 483.2 389.0 489.0 C392.5 494.8 396.0 500.7 399.5 506.5 C403.0 512.3 407.7 520.1 410.0 524.0 C412.3 527.9 411.2 526.3 413.4 530.0 C415.6 533.7 419.7 540.3 423.3 546.3 C426.9 552.4 431.1 559.8 435.0 566.2 C438.9 572.6 443.8 580.3 446.7 584.8 C449.6 589.4 450.8 591.5 452.5 593.6 C454.3 595.6 455.8 596.3 457.2 597.1 C458.5 597.9 459.6 597.3 460.7 598.3 C461.7 599.2 462.2 600.9 463.6 602.9 C464.9 605.0 468.0 609.2 468.8 610.5 L471.8 608.5 C470.9 607.2 468.0 603.1 466.6 600.9 C465.1 598.8 464.4 596.8 463.1 595.6 C461.8 594.4 460.3 594.7 459.0 594.0 C457.6 593.2 456.8 593.1 455.2 591.2 C453.7 589.4 452.6 587.4 449.7 582.9 C446.8 578.4 442.0 570.7 438.1 564.3 C434.2 557.9 430.0 550.5 426.4 544.5 C422.8 538.5 418.7 531.9 416.5 528.2 C414.3 524.4 415.4 526.1 413.1 522.2 C410.8 518.3 406.1 510.5 402.6 504.7 C399.1 498.8 395.6 493.0 392.1 487.2 C388.6 481.3 384.9 475.3 381.6 469.7 C378.3 464.0 375.5 458.6 372.2 453.3 C369.0 448.0 364.5 441.3 362.2 437.9 C359.9 434.6 359.5 435.7 358.3 433.3 C357.1 430.8 355.9 426.5 355.1 423.4 C354.2 420.3 353.7 418.0 353.4 414.7 C353.2 411.5 353.2 407.4 353.6 403.8 C354.1 400.1 354.9 396.3 356.1 392.9 C357.4 389.4 359.4 385.9 361.1 383.0 C362.8 380.1 364.8 377.4 366.6 375.4 C368.3 373.3 369.5 371.9 371.4 370.9 C373.3 369.9 375.4 370.3 377.8 369.4 C380.3 368.6 384.9 366.4 386.3 365.8 Z"/>
<path class="n" fill="#9a9a9a" d="M405.8 385.8 C404.9 386.8 401.9 389.3 400.0 391.7 C398.1 394.0 395.6 396.9 394.2 399.8 C392.7 402.8 391.8 405.9 391.3 409.2 C390.7 412.5 390.4 416.2 390.7 419.7 C391.0 423.2 391.9 426.8 393.0 430.2 C394.1 433.6 395.5 436.6 397.2 440.0 C398.8 443.4 402.0 448.8 403.0 450.5 L397.2 466.3 C395.0 461.9 386.4 444.7 384.3 440.0 C382.3 435.3 385.3 440.6 384.8 438.3 C384.3 436.1 382.1 430.6 381.3 426.7 C380.6 422.8 380.0 418.9 380.2 415.0 C380.4 411.1 381.1 406.8 382.5 403.3 C383.9 399.8 386.2 396.8 388.3 394.0 C390.5 391.2 394.2 387.7 395.3 386.4 Z"/>
<path class="n" fill="url(#a25l)" d="M381.3 377.7 C380.0 379.2 375.5 383.7 373.2 387.0 C370.8 390.3 368.7 393.8 367.3 397.5 C366.0 401.2 365.2 405.3 365.0 409.2 C364.8 413.1 365.6 416.9 366.2 420.8 C366.8 424.7 367.7 429.3 368.5 432.5 C369.3 435.7 367.9 434.5 370.9 440.0 C373.9 445.5 384.0 461.4 386.7 465.7 L397.2 466.3 C395.0 461.9 386.4 444.7 384.3 440.0 C382.3 435.3 385.3 440.6 384.8 438.3 C384.3 436.1 382.1 430.6 381.3 426.7 C380.6 422.8 380.0 418.9 380.2 415.0 C380.4 411.1 381.1 406.8 382.5 403.3 C383.9 399.8 386.2 396.8 388.3 394.0 C390.5 391.2 394.2 387.7 395.3 386.4 Z"/>
<path class="t" fill="none" d="M386.3 365.8 C384.9 366.4 380.3 368.6 377.8 369.4 C375.4 370.3 373.3 369.9 371.4 370.9 C369.5 371.9 368.3 373.3 366.6 375.4 C364.8 377.4 362.8 380.1 361.1 383.0 C359.4 385.9 357.4 389.4 356.1 392.9 C354.9 396.3 354.1 400.1 353.6 403.8 C353.2 407.4 353.2 411.5 353.4 414.7 C353.7 418.0 354.2 420.3 355.1 423.4 C355.9 426.5 357.1 430.8 358.3 433.3 C359.5 435.7 359.9 434.6 362.2 437.9 C364.5 441.3 369.0 448.0 372.2 453.3 C375.5 458.6 378.3 464.0 381.6 469.7 C384.9 475.3 388.6 481.3 392.1 487.2 C395.6 493.0 399.1 498.8 402.6 504.7 C406.1 510.5 410.8 518.3 413.1 522.2 C415.4 526.1 414.3 524.4 416.5 528.2 C418.7 531.9 422.8 538.5 426.4 544.5 C430.0 550.5 434.2 557.9 438.1 564.3 C442.0 570.7 446.8 578.4 449.7 582.9 C452.6 587.4 453.7 589.4 455.2 591.2 C456.8 593.1 457.6 593.2 459.0 594.0 C460.3 594.7 461.8 594.4 463.1 595.6 C464.4 596.8 465.1 598.8 466.6 600.9 C468.0 603.1 470.9 607.2 471.8 608.5" style="stroke:#3c3c3c;stroke-width:1"/>
<path class="t" fill="none" d="M381.3 377.7 C380.0 379.2 375.5 383.7 373.2 387.0 C370.8 390.3 368.7 393.8 367.3 397.5 C366.0 401.2 365.2 405.3 365.0 409.2 C364.8 413.1 365.6 416.9 366.2 420.8 C366.8 424.7 367.7 429.3 368.5 432.5 C369.3 435.7 367.9 434.5 370.9 440.0 C373.9 445.5 381.2 456.9 386.7 465.7 C392.1 474.4 397.2 481.8 403.6 492.5 C410.0 503.2 417.9 517.3 425.1 530.0 C432.2 542.6 443.1 562.1 446.7 568.5" style="stroke:#444;stroke-width:1"/>
<path class="t" fill="none" d="M384.8 438.3 C384.8 438.6 382.3 435.3 384.3 440.0 C386.4 444.7 392.9 457.5 397.2 466.3 C401.4 475.0 403.9 481.9 410.0 492.5 C416.1 503.1 426.3 518.1 433.8 530.0 C441.3 541.8 451.3 558.2 454.8 563.8" style="stroke:#e4e4e4;stroke-width:1.3"/>
<path class="t" fill="none" d="M389.6 394.0 C388.7 395.6 385.2 399.8 383.8 403.3 C382.4 406.8 381.7 411.1 381.5 415.0 C381.3 418.9 381.9 422.8 382.6 426.7 C383.4 430.6 385.6 436.1 386.1 438.3 C386.6 440.6 383.6 435.3 385.6 440.0 C387.7 444.7 394.2 457.5 398.5 466.3 C402.7 475.0 405.2 481.9 411.3 492.5 C417.4 503.1 427.6 518.1 435.1 530.0 C442.6 541.8 452.6 558.2 456.1 563.8" style="stroke:#4a4a4a;stroke-width:0.8"/>
<g transform="translate(330.00 345.00) scale(0.11667)"><path class="o" fill="#c6c6c6" d="M440 280 L585 130 L740 215 L725 250 L690 265 L700 300 L650 340 L560 355 Z" style="stroke-width:0.9"/>
<path class="n" fill="#6c6c6c" d="M585 100 L440 165 L440 280 L585 130 L740 215 L770 210 L620 105 Z"/>
<path class="t" fill="#d6d6d6" d="M500 240 L600 150 L710 215 L600 300 Z" style="stroke:#555"/>
<path class="t" d="M545 265 L680 200 M585 305 L715 235" style="stroke:#444;stroke-width:1"/>
<ellipse cx="605" cy="225" rx="34" ry="27" fill="#8c8c8c" class="t" style="stroke:#333;stroke-width:1"/>
<ellipse cx="630" cy="210" rx="22" ry="15" fill="#f4f4f4"/>
<path class="n" fill="#808080" d="M650 340 L700 300 L715 310 L680 345 Z"/>
<path class="t" fill="#a9a9a9" d="M262 650 L325 630 L340 690 L280 715 Z" style="stroke:#4a4a4a;stroke-width:1"/>
</g>
<g transform="translate(400.00 530.00) scale(0.11667)"><path class="n" fill="#6d6d6d" d="M540 500 L640 390 L720 400 L740 480 L690 600 L590 610 Z"/>
<path class="t" d="M540 500 L640 390 M540 500 L470 440" style="stroke:#444"/>
<path class="n" fill="#7c7c7c" d="M800 370 L870 365 L852 560 L860 630 L940 720 L935 770 L830 770 L780 700 L800 500 Z"/>
<path class="n" fill="#5e5e5e" d="M740 640 L790 620 L800 720 L750 730 Z"/>
<path class="o" fill="#e4e4e4" d="M590 620 L670 640 L655 722 L615 700 Z" style="stroke-width:0.8"/>
<path class="o" fill="#b5b5b5" d="M735 410 L800 400 L800 460 L745 482 Z" style="stroke-width:0.8"/>
<path class="o" fill="#b9b9b9" d="M715 530 L790 535 L790 600 L700 622 Z" style="stroke-width:0.8"/>
<path class="n" fill="#f0f0f0" d="M760 425 L785 420 L785 445 L765 450 Z M755 560 L780 558 L778 585 L760 590 Z"/>
<path class="n" fill="#c4c4c4" d="M700 738 L760 722 L850 735 L935 768 L900 782 L830 772 L760 745 Z"/>
<path class="t" d="M800 370 L810 500 L780 700 M830 350 L800 370" style="stroke:#3c3c3c;stroke-width:1"/>
<path class="t" fill="#a6a6a6" d="M370 290 L420 262 L470 300 L455 330 L410 350 L390 340 Z" style="stroke:#444;stroke-width:1"/>
<path class="n" fill="#d4d4d4" d="M422 268 L462 300 L452 322 L425 300 Z"/></g>
<g transform="translate(340.00 440.00) scale(0.11667)"><path class="t" fill="#7a7a7a" d="M350 110 L420 95 L440 180 L410 210 L365 215 Z" style="stroke:#3c3c3c;stroke-width:1"/>
<path class="n" fill="#cfcfcf" d="M375 110 L415 100 L425 165 L390 172 Z"/>
<path class="t" fill="#7a7a7a" d="M630 625 L690 610 L712 675 L690 700 L650 700 Z" style="stroke:#3c3c3c;stroke-width:1"/>
<path class="n" fill="#cfcfcf" d="M660 622 L690 615 L705 670 L678 676 Z"/></g>
<path class="o" fill="none" d="M398.3 356.7 C397.4 357.2 395.2 358.6 393.0 359.6 C390.8 360.6 387.6 361.4 384.8 362.5 C382.1 363.6 379.2 365.1 376.7 366.0 C374.1 366.9 371.8 366.6 369.7 367.8 C367.5 368.9 365.8 370.8 363.8 373.0 C361.9 375.2 359.8 378.1 358.0 381.2 C356.2 384.3 354.1 388.0 352.8 391.7 C351.4 395.4 350.6 399.4 350.1 403.3 C349.6 407.2 349.6 411.5 349.8 415.0 C350.1 418.5 350.7 421.0 351.6 424.3 C352.5 427.6 353.8 432.2 355.1 434.8 C356.4 437.4 356.9 436.6 359.3 440.0 C361.6 443.4 366.0 449.9 369.2 455.2 C372.4 460.4 375.2 465.9 378.5 471.5 C381.8 477.1 385.5 483.2 389.0 489.0 C392.5 494.8 396.0 500.7 399.5 506.5 C403.0 512.3 407.7 520.1 410.0 524.0 C412.3 527.9 411.2 526.3 413.4 530.0 C415.6 533.7 419.7 540.3 423.3 546.3 C426.9 552.4 431.1 559.8 435.0 566.2 C438.9 572.6 443.8 580.3 446.7 584.8 C449.6 589.4 450.8 591.5 452.5 593.6 C454.3 595.6 455.8 596.3 457.2 597.1 C458.5 597.9 459.6 597.3 460.7 598.3 C461.7 599.2 462.2 600.9 463.6 602.9 C464.9 605.0 467.0 608.4 468.8 610.5 C470.7 612.6 472.5 614.7 474.7 615.8 C476.8 616.8 479.3 616.7 481.7 616.9 C484.0 617.1 486.1 616.3 488.7 616.9 C491.2 617.5 494.1 619.6 496.8 620.4 C499.6 621.2 502.9 621.7 505.0 621.6 C507.1 621.5 508.8 621.1 509.7 619.8 C510.5 618.6 511.0 615.9 510.3 614.0 C509.5 612.1 506.7 609.9 505.0 608.2 C503.4 606.4 501.3 605.6 500.3 603.5 C499.4 601.4 499.3 598.8 499.2 595.3 C499.1 591.8 499.4 586.2 499.8 582.5 C500.1 578.8 501.0 575.0 501.5 573.2 C502.0 571.3 503.4 571.8 502.7 571.4 C501.9 571.0 497.8 570.9 496.8 570.8 L488.7 572 L488.7 572.0 C487.5 571.4 484.4 570.3 481.7 568.5 C478.9 566.8 475.1 564.2 472.3 561.5 C469.6 558.8 467.7 555.5 465.3 552.2 C463.0 548.9 460.7 545.4 458.3 541.7 C456.0 538.0 455.1 536.1 451.3 530.0 C447.6 523.9 440.2 512.8 435.7 505.3 C431.1 497.9 427.9 492.1 424.0 485.5 C420.1 478.9 415.8 471.5 412.3 465.7 C408.8 459.8 405.5 454.8 403.0 450.5 C400.5 446.2 398.8 443.4 397.2 440.0 C395.5 436.6 394.1 433.6 393.0 430.2 C391.9 426.8 391.0 423.2 390.7 419.7 C390.4 416.2 390.7 412.5 391.3 409.2 C391.8 405.9 392.7 402.8 394.2 399.8 C395.6 396.9 398.1 394.0 400.0 391.7 C401.9 389.3 404.9 386.8 405.8 385.8 L409.3 385.3 L413.4 381.2 L412.8 377.1 L417.5 375.3 L419.8 369.5 L402.3 357.3 Z" style="stroke-width:1.7;stroke:#2e2e2e"/>

<!-- 50_main.svg -->
<defs><clipPath id="silc"><path d="M520.0 735.8 C521.7 735.7 525.6 735.8 530.0 735.0 C534.4 734.2 541.1 732.5 546.7 730.8 C552.2 729.2 557.8 727.1 563.3 725.0 C568.9 722.9 574.4 720.6 580.0 718.3 C585.6 716.1 591.1 714.0 596.7 711.7 C602.2 709.3 607.8 706.7 613.3 704.2 C618.9 701.7 624.4 699.2 630.0 696.7 C635.6 694.2 641.1 691.7 646.7 689.2 C652.2 686.7 657.8 684.2 663.3 681.7 C668.9 679.2 674.4 677.2 680.0 674.2 C685.6 671.1 691.1 667.1 696.7 663.3 C702.2 659.6 707.8 655.3 713.3 651.7 C718.9 648.1 724.4 645.0 730.0 641.7 C735.6 638.3 741.1 634.6 746.7 631.7 C752.2 628.8 758.9 626.0 763.3 624.2 C767.8 622.4 770.0 622.1 773.3 620.8 C776.7 619.6 779.4 618.8 783.3 616.7 C787.2 614.6 791.7 612.1 796.7 608.3 C801.7 604.6 807.8 598.6 813.3 594.2 C818.9 589.7 824.4 586.0 830.0 581.7 C835.6 577.4 841.1 573.1 846.7 568.3 C852.2 563.6 858.9 557.5 863.3 553.3 C867.8 549.2 870.4 546.5 873.3 543.3 C876.2 540.1 879.2 536.8 880.8 534.2 C882.4 531.5 882.6 528.6 883.0 527.5 L885.0 525.8 L897.5 530.0 L891.7 540.0 L891.7 540.0 C893.6 542.8 899.7 551.1 903.3 556.7 C906.9 562.2 910.3 567.8 913.3 573.3 C916.4 578.9 918.9 583.3 921.7 590.0 C924.4 596.7 927.8 605.6 930.0 613.3 C932.2 621.1 933.7 628.9 935.0 636.7 C936.3 644.4 937.2 652.8 938.0 660.0 C938.8 667.2 939.5 674.5 940.0 680.0 C940.5 685.5 941.4 688.8 941.3 693.3 C941.2 697.8 940.6 702.5 939.3 706.7 C938.0 710.9 936.5 714.3 933.3 718.7 C930.1 723.1 926.7 727.5 920.0 733.3 C913.3 739.1 902.2 747.3 893.3 753.3 C884.4 759.3 875.6 764.0 866.7 769.3 C857.8 774.6 844.5 782.6 840.0 785.3 L795 814.2 L773.3 802.5 L747.5 816.7 L765.8 830 L765.8 830.0 C762.0 832.5 752.6 839.5 743.3 845.0 C734.0 850.5 720.0 858.1 710.0 863.3 C700.0 868.5 693.0 871.3 683.0 876.0 C673.0 880.7 659.4 887.2 650.0 891.7 C640.6 896.2 633.9 900.2 626.7 903.3 C619.5 906.3 612.3 908.9 606.7 910.0 C601.1 911.1 597.8 910.8 593.3 910.0 C588.8 909.2 585.0 907.5 580.0 905.0 C575.0 902.5 568.8 898.9 563.3 895.0 C557.8 891.1 551.1 887.0 546.7 881.7 C542.3 876.4 540.3 871.4 536.7 863.3 C533.1 855.2 528.6 842.5 525.0 833.3 C521.4 824.1 517.8 814.2 515.0 808.0 C512.2 801.8 510.5 800.1 508.3 796.0 C506.1 791.9 503.6 787.3 501.7 783.3 C499.8 779.2 497.9 775.2 496.7 771.7 C495.4 768.2 494.6 764.0 494.2 762.5 L520 735.8 Z"/></clipPath></defs>
<path class="n" fill="#8a8a8a" d="M520.0 735.8 C521.7 735.7 525.6 735.8 530.0 735.0 C534.4 734.2 541.1 732.5 546.7 730.8 C552.2 729.2 557.8 727.1 563.3 725.0 C568.9 722.9 574.4 720.6 580.0 718.3 C585.6 716.1 591.1 714.0 596.7 711.7 C602.2 709.3 607.8 706.7 613.3 704.2 C618.9 701.7 624.4 699.2 630.0 696.7 C635.6 694.2 641.1 691.7 646.7 689.2 C652.2 686.7 657.8 684.2 663.3 681.7 C668.9 679.2 674.4 677.2 680.0 674.2 C685.6 671.1 691.1 667.1 696.7 663.3 C702.2 659.6 707.8 655.3 713.3 651.7 C718.9 648.1 724.4 645.0 730.0 641.7 C735.6 638.3 741.1 634.6 746.7 631.7 C752.2 628.8 758.9 626.0 763.3 624.2 C767.8 622.4 770.0 622.1 773.3 620.8 C776.7 619.6 779.4 618.8 783.3 616.7 C787.2 614.6 791.7 612.1 796.7 608.3 C801.7 604.6 807.8 598.6 813.3 594.2 C818.9 589.7 824.4 586.0 830.0 581.7 C835.6 577.4 841.1 573.1 846.7 568.3 C852.2 563.6 858.9 557.5 863.3 553.3 C867.8 549.2 870.4 546.5 873.3 543.3 C876.2 540.1 879.2 536.8 880.8 534.2 C882.4 531.5 882.6 528.6 883.0 527.5 L885.0 525.8 L897.5 530.0 L891.7 540.0 L891.7 540.0 C893.6 542.8 899.7 551.1 903.3 556.7 C906.9 562.2 910.3 567.8 913.3 573.3 C916.4 578.9 918.9 583.3 921.7 590.0 C924.4 596.7 927.8 605.6 930.0 613.3 C932.2 621.1 933.7 628.9 935.0 636.7 C936.3 644.4 937.2 652.8 938.0 660.0 C938.8 667.2 939.5 674.5 940.0 680.0 C940.5 685.5 941.4 688.8 941.3 693.3 C941.2 697.8 940.6 702.5 939.3 706.7 C938.0 710.9 936.5 714.3 933.3 718.7 C930.1 723.1 926.7 727.5 920.0 733.3 C913.3 739.1 902.2 747.3 893.3 753.3 C884.4 759.3 875.6 764.0 866.7 769.3 C857.8 774.6 844.5 782.6 840.0 785.3 L795 814.2 L773.3 802.5 L747.5 816.7 L765.8 830 L765.8 830.0 C762.0 832.5 752.6 839.5 743.3 845.0 C734.0 850.5 720.0 858.1 710.0 863.3 C700.0 868.5 693.0 871.3 683.0 876.0 C673.0 880.7 659.4 887.2 650.0 891.7 C640.6 896.2 633.9 900.2 626.7 903.3 C619.5 906.3 612.3 908.9 606.7 910.0 C601.1 911.1 597.8 910.8 593.3 910.0 C588.8 909.2 585.0 907.5 580.0 905.0 C575.0 902.5 568.8 898.9 563.3 895.0 C557.8 891.1 551.1 887.0 546.7 881.7 C542.3 876.4 540.3 871.4 536.7 863.3 C533.1 855.2 528.6 842.5 525.0 833.3 C521.4 824.1 517.8 814.2 515.0 808.0 C512.2 801.8 510.5 800.1 508.3 796.0 C506.1 791.9 503.6 787.3 501.7 783.3 C499.8 779.2 497.9 775.2 496.7 771.7 C495.4 768.2 494.6 764.0 494.2 762.5 L520 735.8 Z"/>
<g clip-path="url(#silc)" id="main-int">
<clipPath id="wA"><rect x="480" y="670" width="200" height="150"/></clipPath>
<g clip-path="url(#wA)"><g transform="translate(480.00 670.00) scale(0.16667)">
<defs><linearGradient id="bwA" gradientUnits="userSpaceOnUse" x1="240" y1="0" x2="2520" y2="0"><stop offset="0" stop-color="#6a6a6a"/><stop offset="0.32" stop-color="#717171"/><stop offset="0.55" stop-color="#7b7b7b"/><stop offset="0.75" stop-color="#858585"/><stop offset="1" stop-color="#888"/></linearGradient></defs>
<path class="n" fill="url(#bwA)" d="M60 560 L240 380 L1200 0 L1200 340 L1100 340 L1000 330 L900 390 L560 530 L470 570 L400 592 L250 602 L130 572 Z"/>
<path class="n" fill="#9b9b9b" d="M60 540 L130 572 L150 620 L200 720 L250 800 L300 870 L320 900 L200 900 Z"/>
<path class="n" fill="#676767" d="M130 572 L250 602 L400 592 L470 570 L465 750 L440 830 L290 832 L300 870 L250 800 L200 720 L150 620 Z"/>
<path class="n" fill="#bcbcbc" d="M288 832 L440 790 L440 826 L300 862 Z"/>
<path class="n" fill="#606060" d="M300 862 L440 826 L520 800 L850 905 L320 905 Z"/>
<path class="t" fill="#9d9d9d" d="M465 575 L500 590 L510 760 L520 800 L440 830 L440 760 L465 750 Z" style="stroke:#3c3c3c"/>
<path class="n" fill="#707070" d="M500 590 L580 555 L900 420 L920 640 L850 700 L840 905 L520 800 L510 760 Z"/>
<path class="t" fill="#c6c6c6" d="M470 570 L560 530 L890 395 L900 420 L580 555 L500 590 Z" style="stroke:#3c3c3c"/>
<path class="n" fill="#6c6c6c" d="M900 420 L940 400 L960 600 L1000 650 L920 640 Z"/>
<path class="n" fill="#9b9b9b" d="M850 700 L920 640 L1000 650 L1020 650 L1160 580 L1200 560 L1200 905 L840 905 Z"/>

<path class="n" fill="#d2d2d2" d="M1090 300 L1200 250 L1200 335 L1150 360 Z"/><path class="n" fill="#6e6e6e" d="M1150 360 L1200 335 L1200 545 L1160 560 Z"/>
<path class="t" d="M850 700 L840 905 M920 640 L850 700 M1000 650 L920 640" style="stroke:#3a3a3a"/>
<!-- white box -->
<path class="o" fill="#d2d2d2" d="M940 420 L985 440 L1010 620 L1000 650 L960 600 Z" style="stroke-width:1"/>
<path class="o" fill="#e4e4e4" d="M940 420 L1080 365 L1140 380 L985 440 Z" style="stroke-width:1"/>
<path class="o" fill="#f5f5f5" d="M985 440 L1140 380 L1160 550 L1010 620 Z" style="stroke-width:1"/>
<path class="o" fill="#bdbdbd" d="M1010 620 L1160 550 L1160 580 L1020 650 L1000 650 Z" style="stroke-width:1"/>
<!-- rib behind -->
<path class="t" fill="#9a9a9a" d="M1010 180 L1050 160 L1100 165 L1095 300 L1060 330 L1015 300 Z" style="stroke:#3c3c3c"/>
<path class="n" fill="#c8c8c8" d="M1050 165 L1085 170 L1082 290 L1060 300 Z"/>
<path class="n" fill="#777" d="M1060 190 L1090 200 L1060 230 L1090 245 L1062 275 Z"/>
<!-- block at 470-540 -->
<path class="t" fill="#8e8e8e" d="M470 400 L520 385 L545 400 L545 470 L500 490 L470 470 Z" style="stroke:#3c3c3c"/>
<path class="n" fill="#b5b5b5" d="M500 400 L540 405 L540 460 L505 475 Z"/>
<!-- slot at far left -->
<path class="t" fill="#8a8a8a" d="M150 600 L250 625 L245 665 L215 670 L160 640 Z" style="stroke:#444"/>
<path class="n" fill="#b0b0b0" d="M165 607 L240 628 L238 645 L170 625 Z"/>
<g transform="translate(560 405) scale(1.00)">
<path class="t" fill="#c6c6c6" d="M-10 60 L90 105 L85 128 L-15 82 Z" style="stroke:#444"/>
<path class="t" fill="#a2a2a2" d="M10 5 L120 92 L92 102 L12 30 Z" style="stroke:#3c3c3c"/>
<path class="t" fill="#8a8a8a" d="M40 0 L140 82 L118 92 L45 22 Z" style="stroke:#3c3c3c"/>
<path class="t" fill="#8c8c8c" d="M85 100 L135 80 L152 96 L146 142 L100 155 L84 130 Z" style="stroke:#333;stroke-width:1"/>
<path class="n" fill="#6a6a6a" d="M122 100 L150 98 L145 140 L118 146 Z"/>
</g><g transform="translate(940 230) scale(1.05)">
<path class="t" fill="#c6c6c6" d="M-10 60 L90 105 L85 128 L-15 82 Z" style="stroke:#444"/>
<path class="t" fill="#a2a2a2" d="M10 5 L120 92 L92 102 L12 30 Z" style="stroke:#3c3c3c"/>
<path class="t" fill="#8a8a8a" d="M40 0 L140 82 L118 92 L45 22 Z" style="stroke:#3c3c3c"/>
<path class="t" fill="#8c8c8c" d="M85 100 L135 80 L152 96 L146 142 L100 155 L84 130 Z" style="stroke:#333;stroke-width:1"/>
<path class="n" fill="#6a6a6a" d="M122 100 L150 98 L145 140 L118 146 Z"/>
</g><g transform="translate(355 590) scale(1.00)">
<path class="t" fill="#c6c6c6" d="M-10 60 L90 105 L85 128 L-15 82 Z" style="stroke:#444"/>
<path class="t" fill="#a2a2a2" d="M10 5 L120 92 L92 102 L12 30 Z" style="stroke:#3c3c3c"/>
<path class="t" fill="#8a8a8a" d="M40 0 L140 82 L118 92 L45 22 Z" style="stroke:#3c3c3c"/>
<path class="t" fill="#8c8c8c" d="M85 100 L135 80 L152 96 L146 142 L100 155 L84 130 Z" style="stroke:#333;stroke-width:1"/>
<path class="n" fill="#6a6a6a" d="M122 100 L150 98 L145 140 L118 146 Z"/>
</g>
<!-- small block below clip -->
<path class="t" fill="#a8a8a8" d="M440 730 L500 720 L520 790 L445 810 Z" style="stroke:#444"/>
<!-- dashed leaders -->
<g fill="none" stroke="#d2d2d2" stroke-width="7" stroke-dasharray="60 8 10 8">
<path d="M700 525 L790 562 L800 705 L835 725 L1200 870"/>
<path d="M165 622 L260 655 L500 745 L840 875 L1200 1010"/>
</g>
</g></g><clipPath id="wB"><rect x="680" y="520" width="200" height="150"/></clipPath>
<g clip-path="url(#wB)"><g transform="translate(680.00 520.00) scale(0.16667)">
<defs><linearGradient id="bwB" gradientUnits="userSpaceOnUse" x1="-960" y1="0" x2="1320" y2="0"><stop offset="0" stop-color="#6a6a6a"/><stop offset="0.32" stop-color="#717171"/><stop offset="0.55" stop-color="#7b7b7b"/><stop offset="0.75" stop-color="#858585"/><stop offset="1" stop-color="#888"/></linearGradient></defs>
<path class="n" fill="url(#bwB)" d="M0 1000 L0 800 L1200 0 L1200 900 Z"/>
<!-- light rail bottom-left -->
<path class="t" fill="#cfcfcf" d="M420 905 L720 735 L745 760 L500 905 Z" style="stroke:#444"/>
<path class="n" fill="#9e9e9e" d="M500 905 L745 760 L760 790 L570 905 Z"/>
<!-- notch block -->
<path class="t" fill="#a8a8a8" d="M525 640 L590 625 L620 640 L625 690 L585 705 L540 690 Z" style="stroke:#3c3c3c"/>
<path class="n" fill="#d8d8d8" d="M585 650 L612 645 L615 685 L590 695 Z"/>
<!-- vertical rib -->
<path class="t" fill="#a5a5a5" d="M700 590 L740 560 L770 575 L780 640 L770 720 L735 720 L710 660 Z" style="stroke:#3c3c3c"/>
<path class="n" fill="#d2d2d2" d="M742 570 L765 580 L770 640 L762 700 L748 700 Z"/>
<!-- right lower wall -->
<path class="n" fill="#808080" d="M800 700 L900 620 L1075 470 L1200 520 L1200 905 L820 905 Z"/>
<path class="t" fill="#cfcfcf" d="M880 590 L1050 450 L1078 470 L900 622 Z" style="stroke:#444"/>
<path class="t" d="M860 720 L880 905 M1020 780 L1025 905 M960 905 L1000 790 L1020 780" style="stroke:#444"/>
<path class="t" fill="#8c8c8c" d="M730 760 L800 720 L830 760 L830 860 L790 905 L730 905 Z" style="stroke:#3c3c3c"/>
<path class="t" fill="#b0b0b0" d="M760 800 L800 790 L810 840 L780 860 Z" style="stroke:#3c3c3c"/>
<!-- block top right -->
<path class="t" fill="#9a9a9a" d="M1110 250 L1150 220 L1180 235 L1180 300 L1150 320 L1115 300 Z" style="stroke:#3c3c3c"/>
<path class="n" fill="#c4c4c4" d="M1150 232 L1174 242 L1174 295 L1152 308 Z"/>
<g transform="translate(755 545) scale(1.05)">
<path class="t" fill="#c6c6c6" d="M-10 60 L90 105 L85 128 L-15 82 Z" style="stroke:#444"/>
<path class="t" fill="#a2a2a2" d="M10 5 L120 92 L92 102 L12 30 Z" style="stroke:#3c3c3c"/>
<path class="t" fill="#8a8a8a" d="M40 0 L140 82 L118 92 L45 22 Z" style="stroke:#3c3c3c"/>
<path class="t" fill="#8c8c8c" d="M85 100 L135 80 L152 96 L146 142 L100 155 L84 130 Z" style="stroke:#333;stroke-width:1"/>
<path class="n" fill="#6a6a6a" d="M122 100 L150 98 L145 140 L118 146 Z"/>
</g><g transform="translate(1060 315) scale(1.05)">
<path class="t" fill="#c6c6c6" d="M-10 60 L90 105 L85 128 L-15 82 Z" style="stroke:#444"/>
<path class="t" fill="#a2a2a2" d="M10 5 L120 92 L92 102 L12 30 Z" style="stroke:#3c3c3c"/>
<path class="t" fill="#8a8a8a" d="M40 0 L140 82 L118 92 L45 22 Z" style="stroke:#3c3c3c"/>
<path class="t" fill="#8c8c8c" d="M85 100 L135 80 L152 96 L146 142 L100 155 L84 130 Z" style="stroke:#333;stroke-width:1"/>
<path class="n" fill="#6a6a6a" d="M122 100 L150 98 L145 140 L118 146 Z"/>
</g>
</g></g><clipPath id="wC"><rect x="880" y="520" width="200" height="150"/></clipPath><clipPath id="wE"><rect x="880" y="670" width="200" height="150"/></clipPath>
<g clip-path="url(#wC)"><g transform="translate(880.00 520.00) scale(0.16667)">
<path class="n" fill="#868686" d="M0 0 L400 0 L400 905 L0 905 Z"/>
<path class="n" fill="#929292" d="M50 130 L90 230 L120 350 L150 480 L165 600 L160 750 L150 905 L400 905 L400 0 L70 100 Z"/>
<path class="n" fill="#9d9d9d" d="M110 220 L170 330 L215 450 L240 600 L250 750 L250 905 L200 905 L200 750 L195 600 L170 450 L140 330 Z"/>
<path class="t" d="M50 130 L90 230 L120 350 L150 480 L165 600 L160 750 L150 905" style="stroke:#444"/>
<path class="t" fill="#8e8e8e" d="M40 170 L80 160 L120 215 L115 250 L80 240 L45 205 Z" style="stroke:#3c3c3c"/>
<path class="t" fill="#858585" d="M20 330 L110 395 L150 420 L150 450 L110 470 L100 520 L40 540 L15 470 Z" style="stroke:#333"/>
<path class="t" fill="#b5b5b5" d="M30 345 L130 400 L110 410 L40 380 Z" style="stroke:#333"/>
<path class="t" fill="#9c9c9c" d="M120 470 L170 490 L180 512 L160 520 L115 495 Z" style="stroke:#333"/>
<path class="t" fill="#e2e2e2" d="M30 545 L95 540 L45 598 Z" style="stroke:#444"/>
<path class="t" fill="#a5a5a5" d="M0 800 L50 785 L62 810 L60 905 L0 905 Z" style="stroke:#444"/>
</g></g>
<g clip-path="url(#wE)"><g transform="translate(880.00 670.00) scale(0.16667)">
<path class="n" fill="#b4b4b4" d="M0 0 L400 0 L400 905 L0 905 Z"/>
<path class="n" fill="#858585" d="M0 0 L400 0 L400 150 L330 260 L300 200 L130 200 L60 170 L0 200 Z"/>
<path class="n" fill="#929292" d="M150 0 L400 0 L400 300 L300 300 L330 200 L340 100 L300 0 Z"/>
<path class="n" fill="#8a8a8a" d="M0 180 L60 170 L180 225 L140 250 L0 210 Z"/>
<path class="t" fill="#9a9a9a" d="M60 90 L130 40 L300 130 L310 180 L270 215 L240 200 L65 125 Z" style="stroke:#333"/>
<path class="t" fill="#b2b2b2" d="M60 90 L130 40 L300 130 L245 160 Z" style="stroke:#333"/>
<path class="t" fill="#7a7a7a" d="M245 160 L300 130 L310 180 L270 215 L248 200 Z" style="stroke:#333"/>
<path class="t" fill="#8c8c8c" d="M235 110 L290 70 L292 125 Z" style="stroke:#333"/>
<path class="t" fill="#8a8a8a" d="M140 195 L210 225 L200 240 L135 212 Z" style="stroke:#444"/>
<path class="t" fill="#9e9e9e" d="M175 325 L215 300 L245 312 L240 345 L205 362 L178 350 Z" style="stroke:#3c3c3c"/>
<path class="n" fill="#c8c8c8" d="M182 325 L215 306 L238 315 L205 335 Z"/>
<path class="t" d="M30 310 L90 345 L130 380 M0 460 L15 480" style="stroke:#555"/>
<g fill="none" stroke="#d2d2d2" stroke-width="6.5" stroke-dasharray="60 8 10 8"><path d="M0 108 L200 195 L400 282"/><path d="M0 290 L150 350 L270 402"/></g>
</g></g><clipPath id="wD"><rect x="680" y="670" width="200" height="150"/></clipPath>
<g clip-path="url(#wD)"><g transform="translate(680.00 670.00) scale(0.16667)">
<path class="n" fill="#a6a6a6" d="M0 0 L1200 0 L1200 905 L0 905 Z"/>
<defs><linearGradient id="bwD" gradientUnits="userSpaceOnUse" x1="-960" y1="0" x2="1320" y2="0"><stop offset="0" stop-color="#6a6a6a"/><stop offset="0.32" stop-color="#717171"/><stop offset="0.55" stop-color="#7b7b7b"/><stop offset="0.75" stop-color="#858585"/><stop offset="1" stop-color="#888"/></linearGradient></defs><path class="n" fill="url(#bwD)" d="M0 0 L480 0 L0 255 Z"/>
<!-- rail -->
<path class="n" fill="#d2d2d2" d="M0 250 L470 0 L650 0 L0 335 Z"/>
<path class="n" fill="#a8a8a8" d="M0 285 L545 0 L590 0 L0 305 Z"/>
<path class="t" d="M0 250 L470 0 M0 335 L650 0" style="stroke:#3c3c3c"/>
<!-- dark band below rail -->
<path class="n" fill="#6e6e6e" d="M0 335 L650 0 L1000 0 L990 60 L790 110 L690 165 L600 240 L565 215 L520 270 L480 250 L470 290 L350 360 L240 400 L235 445 L200 480 L100 495 L0 545 Z"/>
<path class="t" d="M990 60 L790 110 L690 165 L600 240 L565 215 L520 270 L480 250 L470 290 L350 360 L240 400 L235 445 L200 480 L100 495 L0 545" style="stroke:#3c3c3c"/>
<!-- upper right wall -->
<path class="n" fill="#8a8a8a" d="M1000 0 L1200 0 L1200 340 L1040 250 Z"/>
<path class="t" fill="#9a9a9a" d="M960 0 L1040 0 L1060 250 L1010 240 Z" style="stroke:#444"/>
<path class="n" fill="#efefef" d="M1100 0 L1200 0 L1200 20 L1120 60 Z"/>
<path class="n" fill="#b5b5b5" d="M1100 80 L1200 40 L1200 120 L1130 120 Z"/>
<!-- step shadow + right floor -->
<path class="n" fill="#b9b9b9" d="M700 530 L1040 330 L1200 400 L1200 905 L830 905 L780 690 Z"/>
<path class="n" fill="#727272" d="M700 440 L940 310 L1040 250 L1060 330 L880 430 L720 535 Z"/>
<path class="n" fill="#cdcdcd" d="M1060 330 L1200 260 L1200 400 L1090 370 Z"/>
<!-- bottom floor -->
<path class="n" fill="#bebebe" d="M300 780 L550 640 L760 780 L830 800 L830 905 L280 905 Z"/>

<!-- square hole frame -->
<path class="o" fill="#787878" d="M262 590 Q262 570 285 560 L470 468 L545 470 L552 640 L335 762 Q300 770 285 730 Z" style="stroke-width:1"/>
<path class="t" fill="#f4f4f4" d="M322 610 Q322 595 335 590 L468 502 L480 620 L340 700 Q325 700 322 685 Z" style="stroke:#333"/>
<path class="n" fill="#9c9c9c" d="M380 585 L500 632 L495 650 L378 600 Z"/>
<path class="n" fill="#8c8c8c" d="M480 500 L540 475 L548 638 L490 660 Z"/>
<!-- wing -->
<path class="o" fill="#8e8e8e" d="M548 465 L615 372 Q640 360 660 400 L700 560 L780 680 L770 760 L720 780 L552 640 Z" style="stroke-width:1"/>
<path class="n" fill="#6c6c6c" d="M560 470 L618 385 L600 450 L650 520 L700 600 L560 560 Z"/>
<path class="t" fill="#c8c8c8" d="M530 560 L765 670 L755 692 L540 582 Z" style="stroke:#444"/>
<path class="n" fill="#a0a0a0" d="M552 600 L750 700 L765 755 L720 775 L555 640 Z"/>
<path class="t" fill="#f6f6f6" d="M710 590 L800 538 L835 558 L750 612 Z" style="stroke:#777"/>
<!-- small squares -->
<path class="t" fill="#a5a5a5" d="M1100 530 L1140 508 L1172 522 L1165 555 L1125 570 L1100 555 Z" style="stroke:#3c3c3c"/>
<path class="n" fill="#d0d0d0" d="M1106 530 L1140 514 L1165 524 L1128 542 Z"/>
<path class="t" fill="#a5a5a5" d="M800 715 L840 695 L872 708 L866 740 L826 755 L800 740 Z" style="stroke:#3c3c3c"/>
<path class="n" fill="#d0d0d0" d="M806 716 L840 701 L865 710 L828 727 Z"/>
<!-- scallops on dark band -->
<path class="t" fill="#a6a6a6" d="M470 262 Q490 235 515 262 L520 285 L480 300 Z M545 225 Q565 200 588 222 L600 250 L560 262 Z" style="stroke:#3c3c3c"/>
<path class="t" fill="#6e6e6e" d="M20 290 Q60 270 95 300 Q105 330 80 355 L60 310 Z" style="stroke:#333"/>
<path class="t" fill="#6e6e6e" d="M385 95 Q430 70 470 95 Q480 130 450 150 L405 165 Q385 150 400 130 Z" style="stroke:#333"/>
<path class="t" fill="#f4f4f4" d="M140 235 L195 215 Q220 240 215 285 L175 310 Q165 270 140 250 Z" style="stroke:#666"/>
<path class="t" fill="#f4f4f4" d="M495 40 L550 18 Q572 40 568 85 L530 110 Q520 70 495 55 Z" style="stroke:#666"/>
<path class="t" fill="#777" d="M110 228 L140 218 L150 232 L120 244 Z M455 28 L485 18 L495 32 L465 44 Z" style="stroke:#333"/>
<g transform="translate(92 355)">
<path class="o" fill="#e9e9e9" d="M10 20 Q30 0 60 5 L95 25 Q112 50 100 85 Q90 105 70 110 L30 95 Q0 70 10 20 Z" style="stroke-width:0.9"/>
<path class="n" fill="#b5b5b5" d="M10 25 Q25 40 25 60 Q22 85 32 93 Q5 70 10 25 Z"/>
<ellipse cx="85" cy="68" rx="22" ry="32" fill="#8a8a8a" class="t" style="stroke:#333" transform="rotate(-15 85 68)"/>
<ellipse cx="88" cy="70" rx="9" ry="13" fill="#4a4a4a" transform="rotate(-15 88 70)"/>
</g><g transform="translate(672 20)">
<path class="o" fill="#e9e9e9" d="M10 20 Q30 0 60 5 L95 25 Q112 50 100 85 Q90 105 70 110 L30 95 Q0 70 10 20 Z" style="stroke-width:0.9"/>
<path class="n" fill="#b5b5b5" d="M10 25 Q25 40 25 60 Q22 85 32 93 Q5 70 10 25 Z"/>
<ellipse cx="85" cy="68" rx="22" ry="32" fill="#8a8a8a" class="t" style="stroke:#333" transform="rotate(-15 85 68)"/>
<ellipse cx="88" cy="70" rx="9" ry="13" fill="#4a4a4a" transform="rotate(-15 88 70)"/>
</g><g transform="translate(710 400) scale(1.00)">
<path class="t" fill="#6a6a6a" d="M20 70 L150 40 L185 70 L180 110 L60 110 Z" style="stroke:#333"/>
<path class="t" fill="#d2d2d2" d="M0 55 L60 20 L150 38 L165 62 L120 70 Z" style="stroke:#444"/>
<path class="t" fill="#b8b8b8" d="M10 75 L120 72 L160 90 L150 105 L40 95 Z" style="stroke:#444"/>
<path class="t" fill="#9a9a9a" d="M150 38 L180 60 L178 100 L160 90 L165 62 Z" style="stroke:#333"/>
</g><g transform="translate(935 265) scale(0.80)">
<path class="t" fill="#6a6a6a" d="M20 70 L150 40 L185 70 L180 110 L60 110 Z" style="stroke:#333"/>
<path class="t" fill="#d2d2d2" d="M0 55 L60 20 L150 38 L165 62 L120 70 Z" style="stroke:#444"/>
<path class="t" fill="#b8b8b8" d="M10 75 L120 72 L160 90 L150 105 L40 95 Z" style="stroke:#444"/>
<path class="t" fill="#9a9a9a" d="M150 38 L180 60 L178 100 L160 90 L165 62 Z" style="stroke:#333"/>
</g><g transform="translate(115 735) scale(0.95)">
<path class="t" fill="#6a6a6a" d="M20 70 L150 40 L185 70 L180 110 L60 110 Z" style="stroke:#333"/>
<path class="t" fill="#d2d2d2" d="M0 55 L60 20 L150 38 L165 62 L120 70 Z" style="stroke:#444"/>
<path class="t" fill="#b8b8b8" d="M10 75 L120 72 L160 90 L150 105 L40 95 Z" style="stroke:#444"/>
<path class="t" fill="#9a9a9a" d="M150 38 L180 60 L178 100 L160 90 L165 62 Z" style="stroke:#333"/>
</g>
<path class="t" fill="#9a9a9a" d="M0 30 Q30 20 50 45 L75 110 L90 200 L60 235 L40 240 L30 150 Z" style="stroke:#3c3c3c"/>
<path class="n" fill="#d5d5d5" d="M50 60 L70 115 L82 195 L62 225 L55 150 Z"/>
<path class="t" fill="#f4f4f4" d="M0 0 L90 0 Q70 40 0 55 Z" style="stroke:#444"/>
<g fill="none" stroke="#d2d2d2" stroke-width="6.5" stroke-dasharray="60 8 10 8" opacity="0.9">
<path d="M215 270 L560 420 L780 525 L1200 700"/>
<path d="M790 105 L1200 280"/>
<path d="M920 0 L1200 100"/>
<path d="M0 770 L200 860"/>
</g>
<path class="t" d="M1040 370 L1200 440" style="stroke:#555"/>
</g></g><clipPath id="wF"><rect x="480" y="820" width="200" height="150"/></clipPath><clipPath id="wG"><rect x="680" y="820" width="200" height="150"/></clipPath>
<g clip-path="url(#wF)"><g transform="translate(480.00 820.00) scale(0.16667)">
<path class="n" fill="#c4c4c4" d="M0 0 L1200 0 L1200 905 L0 905 Z"/>
<path class="n" fill="#676767" d="M330 -10 L850 -10 L1160 130 L1000 200 L700 350 L660 362 L560 315 L510 340 L460 230 L400 110 Z"/>
<path class="n" fill="#a0a0a0" d="M200 -10 L330 -10 L400 110 L460 230 L510 340 L550 430 L600 500 L560 520 L300 400 Z"/>
<path class="t" d="M330 -10 L400 110 L460 230 L510 340 L550 430 L595 495" style="stroke:#4a4a4a"/>
<path class="t" d="M700 350 L1000 200 L1160 130" style="stroke:#555"/>
<path class="t" d="M760 335 L870 395 L910 432 M920 260 L1040 318 L1072 362" style="stroke:#555"/>
<!-- block -->
<path class="t" fill="#8e8e8e" d="M520 345 L590 400 L590 445 L530 400 Z" style="stroke:#3c3c3c"/>
<path class="t" fill="#c2c2c2" d="M520 340 L570 315 L712 400 L690 422 L600 398 L590 400 Z" style="stroke:#3c3c3c"/>
<path class="t" fill="#929292" d="M590 400 L600 398 L690 422 L690 452 L660 466 L590 444 Z" style="stroke:#3c3c3c"/>
<path class="t" d="M540 400 Q560 470 620 470" style="stroke:#555"/>
<g transform="translate(785 438)"><path class="t" fill="#a2a2a2" d="M0 22 L40 0 L72 14 L66 46 L26 62 L0 46 Z" style="stroke:#3c3c3c"/><path class="n" fill="#d2d2d2" d="M6 22 L40 6 L65 16 L28 34 Z"/></g><g transform="translate(1140 275)"><path class="t" fill="#a2a2a2" d="M0 22 L40 0 L72 14 L66 46 L26 62 L0 46 Z" style="stroke:#3c3c3c"/><path class="n" fill="#d2d2d2" d="M6 22 L40 6 L65 16 L28 34 Z"/></g>
<g fill="none" stroke="#d2d2d2" stroke-width="6.5" stroke-dasharray="60 8 10 8"><path d="M850 20 L1200 152"/></g>
</g></g>
<g clip-path="url(#wG)"><g transform="translate(580.00 770.00) scale(0.16667)">
<path class="n" fill="#c4c4c4" d="M0 0 L1200 0 L1200 905 L0 905 Z"/>
<path class="n" fill="#676767" d="M500 250 L560 290 L560 380 L540 440 L330 550 L60 670 L0 640 L0 200 Z"/>
<path class="n" fill="#9a9a9a" d="M560 270 L720 180 L880 100 L850 -10 L600 -10 L600 250 Z"/>
<path class="n" fill="#707070" d="M560 272 L720 182 L770 250 L620 335 L565 380 Z"/>
<path class="n" fill="#bdbdbd" d="M900 150 L1080 80 L1100 -10 L1200 -10 L1200 170 L1130 200 L1000 282 Z"/>
<path class="n" fill="#767676" d="M880 -10 L1200 -10 L1200 60 L1080 110 L1000 200 L940 130 Z"/>
<path class="o" fill="#8c8c8c" d="M850 -10 L900 150 L1000 290 L1010 350 L985 340 L965 382 L940 340 L760 250 L880 100 Z" style="stroke-width:1"/>
<path class="n" fill="#a5a5a5" d="M770 250 L880 110 L900 160 L985 290 L995 335 L940 330 Z"/>
<path class="t" d="M320 560 L440 620 L472 668" style="stroke:#555"/>
<g transform="translate(710 150) scale(0.95)">
<path class="t" fill="#6a6a6a" d="M20 70 L150 40 L185 70 L180 110 L60 110 Z" style="stroke:#333"/>
<path class="t" fill="#d2d2d2" d="M0 55 L60 20 L150 38 L165 62 L120 70 Z" style="stroke:#444"/>
<path class="t" fill="#b8b8b8" d="M10 75 L120 72 L160 90 L150 105 L40 95 Z" style="stroke:#444"/>
<path class="t" fill="#9a9a9a" d="M150 38 L180 60 L178 100 L160 90 L165 62 Z" style="stroke:#333"/>
</g><g transform="translate(600 268) scale(0.90)">
<path class="t" fill="#6a6a6a" d="M20 70 L150 40 L185 70 L180 110 L60 110 Z" style="stroke:#333"/>
<path class="t" fill="#d2d2d2" d="M0 55 L60 20 L150 38 L165 62 L120 70 Z" style="stroke:#444"/>
<path class="t" fill="#b8b8b8" d="M10 75 L120 72 L160 90 L150 105 L40 95 Z" style="stroke:#444"/>
<path class="t" fill="#9a9a9a" d="M150 38 L180 60 L178 100 L160 90 L165 62 Z" style="stroke:#333"/>
</g><g transform="translate(870 402)"><path class="t" fill="#a2a2a2" d="M0 22 L40 0 L72 14 L66 46 L26 62 L0 46 Z" style="stroke:#3c3c3c"/><path class="n" fill="#d2d2d2" d="M6 22 L40 6 L65 16 L28 34 Z"/></g><g transform="translate(540 572)"><path class="t" fill="#a2a2a2" d="M0 22 L40 0 L72 14 L66 46 L26 62 L0 46 Z" style="stroke:#3c3c3c"/><path class="n" fill="#d2d2d2" d="M6 22 L40 6 L65 16 L28 34 Z"/></g>
<g fill="none" stroke="#d2d2d2" stroke-width="6.5" stroke-dasharray="60 8 10 8"><path d="M600 255 L1200 500"/><path d="M600 480 L900 600"/></g>
</g></g><clipPath id="wJ"><rect x="620" y="725" width="170" height="130"/></clipPath>
<g clip-path="url(#wJ)"><g transform="translate(590.00 720.00) scale(0.16667)">
<defs><linearGradient id="slab" gradientUnits="userSpaceOnUse" x1="300" y1="400" x2="900" y2="150"><stop offset="0" stop-color="#9c9c9c"/><stop offset="0.5" stop-color="#c0c0c0"/><stop offset="1" stop-color="#a0a0a0"/></linearGradient></defs>
<!-- box1 front + dark floor -->
<path class="n" fill="#6e6e6e" d="M0 230 L180 400 L180 640 L0 520 Z"/>
<path class="n" fill="#666" d="M0 520 L180 640 L480 740 L440 760 L250 850 L150 905 L0 905 Z"/>
<path class="n" fill="#c4c4c4" d="M150 905 L250 850 L440 760 L500 700 L560 600 L700 520 L820 540 L900 680 L950 580 L1050 660 L800 905 Z"/>
<!-- box1 right side -->
<path class="n" fill="#8b8b8b" d="M180 400 L260 360 L420 540 L500 560 L560 600 L500 700 L480 740 L180 640 Z"/>
<path class="t" d="M180 400 L180 640 M180 400 L260 360" style="stroke:#3a3a3a"/>
<path class="n" fill="#6c6c6c" d="M200 570 Q280 550 380 600 Q430 620 440 650 L330 640 Q250 660 200 640 Z"/>
<path class="n" fill="#a8a8a8" d="M230 380 L270 370 L420 545 L390 560 Z"/>
<!-- slab -->
<path class="n" fill="url(#slab)" d="M260 360 L340 335 L500 280 L620 200 L700 180 L860 100 L1000 40 L1080 60 L820 260 L800 300 L820 400 L700 460 L500 560 L420 540 Z"/>
<path class="t" d="M260 360 L420 540 L500 560 L700 460 L820 400" style="stroke:#3a3a3a"/>
<path class="n" fill="#6e6e6e" d="M500 560 L700 460 L820 400 L830 440 L700 520 L560 600 Z"/>
<!-- dark band behind slab -->
<path class="n" fill="#6e6e6e" d="M500 -10 L1010 -10 L1000 40 L860 100 L700 180 L620 200 L500 280 L340 335 L290 100 Z"/>
<!-- white box -->
<path class="o" fill="#d4d4d4" d="M280 110 L330 130 L350 320 L340 345 L300 300 Z" style="stroke-width:1"/>
<path class="o" fill="#e4e4e4" d="M280 110 L420 65 L480 80 L330 130 Z" style="stroke-width:1"/>
<path class="o" fill="#f6f6f6" d="M330 130 L480 80 L500 250 L350 320 Z" style="stroke-width:1"/>
<path class="o" fill="#bdbdbd" d="M350 320 L500 250 L500 280 L360 345 L340 345 Z" style="stroke-width:1"/>
<!-- cylinder -->
<g transform="translate(632 55) scale(0.95)">
<path class="o" fill="#e9e9e9" d="M10 20 Q30 0 60 5 L95 25 Q112 50 100 85 Q90 105 70 110 L30 95 Q0 70 10 20 Z" style="stroke-width:0.9"/>
<path class="n" fill="#b5b5b5" d="M10 25 Q25 40 25 60 Q22 85 32 93 Q5 70 10 25 Z"/>
<ellipse cx="85" cy="68" rx="22" ry="32" fill="#8a8a8a" class="t" style="stroke:#333" transform="rotate(-15 85 68)"/>
<ellipse cx="88" cy="70" rx="9" ry="13" fill="#4a4a4a" transform="rotate(-15 88 70)"/></g>
<path class="t" fill="#6e6e6e" d="M620 170 Q660 190 700 160 L745 140 Q770 110 750 95 L735 130 L700 150 Z" style="stroke:#333"/>
<!-- square hole frame -->
<path class="o" fill="#787878" d="M802 310 Q798 285 820 270 L1010 178 L1085 180 L1092 350 L875 472 Q840 480 825 440 Z" style="stroke-width:1"/>
<path class="t" fill="#f4f4f4" d="M862 320 Q862 305 875 300 L1008 212 L1020 330 L880 410 Q865 410 862 395 Z" style="stroke:#333"/>
<path class="n" fill="#9c9c9c" d="M920 295 L1040 342 L1035 360 L918 310 Z"/>
<path class="n" fill="#8c8c8c" d="M1020 210 L1080 185 L1088 348 L1030 370 Z"/>
<!-- right of frame: floor etc. -->
<path class="n" fill="#bebebe" d="M1092 350 L1210 330 L1210 540 L1100 490 L950 580 L900 500 Z"/>
<path class="n" fill="#8e8e8e" d="M1085 180 L1160 70 Q1185 60 1210 100 L1210 340 L1092 350 Z"/>
<path class="n" fill="#6c6c6c" d="M1100 180 L1160 90 L1150 160 L1200 220 L1210 300 L1100 270 Z"/>
<path class="t" fill="#c8c8c8" d="M1075 270 L1210 330 L1210 355 L1085 292 Z" style="stroke:#444"/>
<!-- wing lower part -->
<path class="o" fill="#8c8c8c" d="M820 400 L875 472 L900 560 L950 600 L948 640 L925 632 L905 680 L880 640 L700 520 L830 440 Z" style="stroke-width:1"/>
<path class="n" fill="#a2a2a2" d="M835 445 L870 480 L892 560 L940 602 L938 628 L900 640 L720 520 Z"/>
<!-- notch (white) -->
<path class="n" fill="#fff" d="M950 580 L1100 490 L1210 540 L1210 905 L800 905 L1050 660 Z"/>
<g transform="translate(655 440) scale(0.95)">
<path class="t" fill="#6a6a6a" d="M20 70 L150 40 L185 70 L180 110 L60 110 Z" style="stroke:#333"/>
<path class="t" fill="#d2d2d2" d="M0 55 L60 20 L150 38 L165 62 L120 70 Z" style="stroke:#444"/>
<path class="t" fill="#b8b8b8" d="M10 75 L120 72 L160 90 L150 105 L40 95 Z" style="stroke:#444"/>
<path class="t" fill="#9a9a9a" d="M150 38 L180 60 L178 100 L160 90 L165 62 Z" style="stroke:#333"/>
</g><g transform="translate(385 520) scale(1.0) rotate(8)">
<path class="t" fill="#c6c6c6" d="M-10 60 L90 105 L85 128 L-15 82 Z" style="stroke:#444"/>
<path class="t" fill="#a2a2a2" d="M10 5 L120 92 L92 102 L12 30 Z" style="stroke:#3c3c3c"/>
<path class="t" fill="#8a8a8a" d="M40 0 L140 82 L118 92 L45 22 Z" style="stroke:#3c3c3c"/>
<path class="t" fill="#8c8c8c" d="M85 100 L135 80 L152 96 L146 142 L100 155 L84 130 Z" style="stroke:#333;stroke-width:1"/>
<path class="n" fill="#6a6a6a" d="M122 100 L150 98 L145 140 L118 146 Z"/>
</g><g transform="translate(810 698)"><path class="t" fill="#a2a2a2" d="M0 22 L40 0 L72 14 L66 46 L26 62 L0 46 Z" style="stroke:#3c3c3c"/><path class="n" fill="#d2d2d2" d="M6 22 L40 6 L65 16 L28 34 Z"/></g>
<g fill="none" stroke="#d2d2d2" stroke-width="6.5" stroke-dasharray="60 8 10 8" opacity="0.9">
<path d="M40 225 L125 262 L140 400 L175 425 L480 560 L700 650 L1000 770"/>
<path d="M0 520 L230 625 L480 740 L700 830 L860 900"/>
<path d="M780 0 L1200 170"/>
</g>
<path class="t" d="M180 640 L480 740 L500 700 M480 740 L440 760" style="stroke:#3a3a3a"/>
</g></g><clipPath id="wN"><rect x="832" y="612" width="128" height="123"/></clipPath>
<g clip-path="url(#wN)"><g transform="translate(780.00 600.00) scale(0.14999)">
<defs><linearGradient id="rbN" gradientUnits="userSpaceOnUse" x1="840" y1="300" x2="1060" y2="300"><stop offset="0" stop-color="#8c8c8c"/><stop offset="0.5" stop-color="#a2a2a2"/><stop offset="1" stop-color="#8e8e8e"/></linearGradient>
<linearGradient id="mfN" gradientUnits="userSpaceOnUse" x1="0" y1="600" x2="450" y2="900"><stop offset="0" stop-color="#979797"/><stop offset="0.5" stop-color="#a8a8a8"/><stop offset="1" stop-color="#bebebe"/></linearGradient></defs>
<path class="n" fill="#878787" d="M0 0 L1200 0 L1200 905 L0 905 Z"/>
<!-- right band -->
<path class="n" fill="url(#rbN)" d="M840 -10 L850 200 L850 400 L830 480 L1000 610 L1010 660 L970 700 L1080 760 L1200 300 L1000 -10 Z"/>
<path class="t" d="M842 -10 L850 200 L850 410 L832 478" style="stroke:#444"/>
<!-- darker left wall portion -->
<path class="n" fill="#7d7d7d" d="M250 250 L300 280 L460 320 L470 420 L480 600 L440 600 L300 560 L230 420 Z"/>
<path class="t" d="M300 280 L460 320 L470 420 L490 760 M430 330 L440 600" style="stroke:#444"/>
<path class="n" fill="#9a9a9a" d="M432 330 L460 322 L470 420 L488 740 L470 740 L440 600 Z"/>
<!-- floor regions -->
<path class="n" fill="#6f6f6f" d="M480 600 L550 590 L745 640 L890 720 L700 760 L560 800 L495 770 Z"/>
<path class="n" fill="#b8b8b8" d="M560 800 L700 740 L890 720 L970 700 L1080 760 L1000 905 L520 905 Z"/>
<path class="n" fill="url(#mfN)" d="M0 700 L90 640 L200 600 L300 560 L440 600 L490 770 L520 905 L0 905 Z"/>
<path class="n" fill="#6e6e6e" d="M0 460 L80 480 L100 560 L90 640 L0 700 Z"/>
<!-- top-left rail strips -->
<path class="n" fill="#d0d0d0" d="M0 170 L180 60 L200 90 L0 220 Z M0 330 L220 260 L240 300 L0 420 Z"/>
<path class="n" fill="#6f6f6f" d="M0 220 L200 90 L230 250 L220 260 L0 330 Z"/>
<path class="t" fill="#9a9a9a" d="M120 110 L160 80 L200 95 L215 250 L180 270 L150 250 Z" style="stroke:#3c3c3c"/>
<path class="t" fill="#cfcfcf" d="M300 120 L520 0 L560 0 L340 140 Z" style="stroke:#444"/>
<path class="t" fill="#9c9c9c" d="M200 100 L330 170 L350 200 L345 235 L300 250 L215 215 Z" style="stroke:#333"/>
<path class="t" fill="#c4c4c4" d="M205 90 L330 165 L300 180 L210 130 Z" style="stroke:#333"/>
<path class="t" fill="#8a8a8a" d="M140 310 L220 290 L250 320 L255 400 L210 420 L150 360 Z" style="stroke:#333"/>
<path class="t" fill="#b5b5b5" d="M130 420 Q200 380 250 420 Q270 470 230 500 Q200 470 150 470 Z" style="stroke:#444"/>
<!-- cylinder -->
<g transform="translate(78 492) scale(1.1)">
<path class="o" fill="#e9e9e9" d="M10 20 Q30 0 60 5 L95 25 Q112 50 100 85 Q90 105 70 110 L30 95 Q0 70 10 20 Z" style="stroke-width:0.9"/>
<path class="n" fill="#b5b5b5" d="M10 25 Q25 40 25 60 Q22 85 32 93 Q5 70 10 25 Z"/>
<ellipse cx="85" cy="68" rx="22" ry="32" fill="#8a8a8a" class="t" style="stroke:#333" transform="rotate(-15 85 68)"/>
<ellipse cx="88" cy="70" rx="9" ry="13" fill="#4a4a4a" transform="rotate(-15 88 70)"/></g>
<!-- square hole -->
<path class="o" fill="#7a7a7a" d="M545 490 Q545 475 560 462 L700 345 Q735 335 742 362 L745 450 L595 600 Q560 605 555 580 Z" style="stroke-width:1"/>
<path class="n" fill="#9a9a9a" d="M640 425 L700 370 L725 380 L730 440 L660 500 Z"/>
<path class="n" fill="#f4f4f4" d="M562 492 L640 420 L652 470 L590 532 Z"/>
<path class="n" fill="#c9c9c9" d="M585 560 L735 440 L744 458 L596 598 Z"/>
<!-- bracket -->
<path class="o" fill="#8c8c8c" d="M740 565 L950 650 L960 700 L890 720 L745 640 Z" style="stroke-width:1"/>
<path class="o" fill="#b2b2b2" d="M740 560 L810 520 L1000 612 L950 650 Z" style="stroke-width:1"/>
<path class="o" fill="#7a7a7a" d="M950 650 L1000 612 L1010 660 L965 700 Z" style="stroke-width:1"/>
<path class="t" fill="#8c8c8c" d="M940 592 L990 540 L992 612 Z" style="stroke:#333"/>
<path class="t" fill="#b5b5b5" d="M830 680 L880 700 L875 720 L825 698 Z" style="stroke:#444"/>
<!-- clip piece top -->
<path class="t" fill="#858585" d="M690 -10 L780 -10 L790 50 L770 70 L720 130 L700 110 Z" style="stroke:#333"/>
<path class="t" fill="#e2e2e2" d="M700 75 L770 68 L722 128 Z" style="stroke:#444"/>
<path class="t" fill="#9c9c9c" d="M800 -10 L860 10 L870 40 L850 45 L805 20 Z" style="stroke:#333"/>
<g transform="translate(375 755) scale(0.85)">
<path class="t" fill="#6a6a6a" d="M20 70 L150 40 L185 70 L180 110 L60 110 Z" style="stroke:#333"/>
<path class="t" fill="#d2d2d2" d="M0 55 L60 20 L150 38 L165 62 L120 70 Z" style="stroke:#444"/>
<path class="t" fill="#b8b8b8" d="M10 75 L120 72 L160 90 L150 105 L40 95 Z" style="stroke:#444"/>
<path class="t" fill="#9a9a9a" d="M150 38 L180 60 L178 100 L160 90 L165 62 Z" style="stroke:#333"/>
</g><g transform="translate(862 798)"><path class="t" fill="#a2a2a2" d="M0 22 L40 0 L72 14 L66 46 L26 62 L0 46 Z" style="stroke:#3c3c3c"/><path class="n" fill="#d2d2d2" d="M6 22 L40 6 L65 16 L28 34 Z"/></g>
<g fill="none" stroke="#d2d2d2" stroke-width="6.5" stroke-dasharray="60 8 10 8" opacity="0.9">
<path d="M215 400 L700 600 L1110 770"/>
<path d="M200 580 L600 750 L900 880"/>
</g>
<path class="t" d="M700 800 L780 830 L800 850" style="stroke:#666"/>
</g></g>
</g>
<path class="o" fill="#cdcdcd" d="M520.0 735.8 C521.7 735.7 525.6 735.8 530.0 735.0 C534.4 734.2 541.1 732.5 546.7 730.8 C552.2 729.2 557.8 727.1 563.3 725.0 C568.9 722.9 574.4 720.6 580.0 718.3 C585.6 716.1 591.1 714.0 596.7 711.7 C602.2 709.3 607.8 706.7 613.3 704.2 C618.9 701.7 624.4 699.2 630.0 696.7 C635.6 694.2 641.1 691.7 646.7 689.2 C652.2 686.7 657.8 684.2 663.3 681.7 C668.9 679.2 674.4 677.2 680.0 674.2 C685.6 671.1 691.1 667.1 696.7 663.3 C702.2 659.6 707.8 655.3 713.3 651.7 C718.9 648.1 724.4 645.0 730.0 641.7 C735.6 638.3 741.1 634.6 746.7 631.7 C752.2 628.8 758.9 626.0 763.3 624.2 C767.8 622.4 770.0 622.1 773.3 620.8 C776.7 619.6 779.4 618.8 783.3 616.7 C787.2 614.6 791.7 612.1 796.7 608.3 C801.7 604.6 807.8 598.6 813.3 594.2 C818.9 589.7 824.4 586.0 830.0 581.7 C835.6 577.4 841.1 573.1 846.7 568.3 C852.2 563.6 858.9 557.5 863.3 553.3 C867.8 549.2 870.4 546.5 873.3 543.3 C876.2 540.1 879.2 536.8 880.8 534.2 C882.4 531.5 882.6 528.6 883.0 527.5 L885.0 525.8 L897.5 530.0 L891.7 540.0 L887.2 542.2 C885.5 543.9 881.1 548.3 877.2 552.2 C873.3 556.1 868.8 561.0 863.8 565.5 C858.8 570.1 852.7 575.1 847.2 579.7 C841.6 584.3 836.1 588.7 830.5 593.0 C824.9 597.3 819.4 601.4 813.8 605.5 C808.3 609.7 802.7 614.6 797.2 618.0 C791.6 621.5 784.9 624.6 780.5 626.4 C776.1 628.1 773.8 627.4 770.5 628.4 C767.2 629.3 764.4 630.3 760.5 632.2 C756.6 634.1 752.2 636.8 747.2 639.7 C742.2 642.6 736.1 646.4 730.5 649.7 C724.9 653.0 718.6 656.8 713.8 659.7 C709.1 662.6 707.7 663.5 702.2 667.2 C696.6 671.0 686.9 678.5 680.5 682.2 C674.1 686.0 669.4 687.2 663.8 689.7 C658.3 692.2 652.7 694.7 647.2 697.2 C641.6 699.7 636.1 702.2 630.5 704.7 C624.9 707.2 619.4 709.7 613.8 712.2 C608.3 714.7 602.7 717.3 597.2 719.7 C591.6 722.1 586.1 724.1 580.5 726.4 C574.9 728.6 569.4 731.1 563.8 733.0 C558.3 735.0 553.6 736.5 547.2 738.0 C540.8 739.6 529.1 741.5 525.5 742.2 Z" style="stroke-width:0.9;stroke:#4a4a4a"/>
<path class="t" fill="none" d="M530.5 737.1 C533.3 736.4 541.7 734.6 547.3 732.9 C552.9 731.3 558.5 729.2 564.1 727.1 C569.7 725.0 575.2 722.6 580.8 720.4 C586.4 718.1 592.0 716.1 597.5 713.7 C603.1 711.3 608.7 708.7 614.2 706.2 C619.8 703.7 625.3 701.2 630.9 698.7 C636.5 696.2 642.0 693.7 647.6 691.2 C653.1 688.7 658.7 686.2 664.2 683.7 C669.8 681.2 675.4 679.2 681.1 676.1 C686.7 673.0 692.3 668.9 697.9 665.2 C703.5 661.4 709.0 657.1 714.5 653.5 C720.1 649.9 725.6 646.9 731.1 643.6 C736.7 640.2 742.2 636.5 747.7 633.6 C753.2 630.7 759.8 628.0 764.2 626.2 C768.6 624.4 770.7 624.2 774.1 622.9 C777.5 621.6 780.4 620.7 784.4 618.6 C788.4 616.5 792.9 613.9 798.0 610.1 C803.0 606.3 809.1 600.3 814.7 595.9 C820.3 591.4 825.8 587.7 831.3 583.4 C836.9 579.1 842.5 574.8 848.1 570.0 C853.7 565.3 860.4 559.1 864.8 554.9 C869.3 550.7 872.0 548.1 875.0 544.8 C877.9 541.5 881.0 538.1 882.7 535.3 C884.4 532.5 884.7 529.4 885.1 528.2" style="stroke:#e2e2e2;stroke-width:2.2"/>
<path class="o" fill="none" d="M520.0 735.8 C521.7 735.7 525.6 735.8 530.0 735.0 C534.4 734.2 541.1 732.5 546.7 730.8 C552.2 729.2 557.8 727.1 563.3 725.0 C568.9 722.9 574.4 720.6 580.0 718.3 C585.6 716.1 591.1 714.0 596.7 711.7 C602.2 709.3 607.8 706.7 613.3 704.2 C618.9 701.7 624.4 699.2 630.0 696.7 C635.6 694.2 641.1 691.7 646.7 689.2 C652.2 686.7 657.8 684.2 663.3 681.7 C668.9 679.2 674.4 677.2 680.0 674.2 C685.6 671.1 691.1 667.1 696.7 663.3 C702.2 659.6 707.8 655.3 713.3 651.7 C718.9 648.1 724.4 645.0 730.0 641.7 C735.6 638.3 741.1 634.6 746.7 631.7 C752.2 628.8 758.9 626.0 763.3 624.2 C767.8 622.4 770.0 622.1 773.3 620.8 C776.7 619.6 779.4 618.8 783.3 616.7 C787.2 614.6 791.7 612.1 796.7 608.3 C801.7 604.6 807.8 598.6 813.3 594.2 C818.9 589.7 824.4 586.0 830.0 581.7 C835.6 577.4 841.1 573.1 846.7 568.3 C852.2 563.6 858.9 557.5 863.3 553.3 C867.8 549.2 870.4 546.5 873.3 543.3 C876.2 540.1 879.2 536.8 880.8 534.2 C882.4 531.5 882.6 528.6 883.0 527.5 L885.0 525.8 L897.5 530.0 L891.7 540.0 L891.7 540.0 C893.6 542.8 899.7 551.1 903.3 556.7 C906.9 562.2 910.3 567.8 913.3 573.3 C916.4 578.9 918.9 583.3 921.7 590.0 C924.4 596.7 927.8 605.6 930.0 613.3 C932.2 621.1 933.7 628.9 935.0 636.7 C936.3 644.4 937.2 652.8 938.0 660.0 C938.8 667.2 939.5 674.5 940.0 680.0 C940.5 685.5 941.4 688.8 941.3 693.3 C941.2 697.8 940.6 702.5 939.3 706.7 C938.0 710.9 936.5 714.3 933.3 718.7 C930.1 723.1 926.7 727.5 920.0 733.3 C913.3 739.1 902.2 747.3 893.3 753.3 C884.4 759.3 875.6 764.0 866.7 769.3 C857.8 774.6 844.5 782.6 840.0 785.3 L795 814.2 L773.3 802.5 L747.5 816.7 L765.8 830 L765.8 830.0 C762.0 832.5 752.6 839.5 743.3 845.0 C734.0 850.5 720.0 858.1 710.0 863.3 C700.0 868.5 693.0 871.3 683.0 876.0 C673.0 880.7 659.4 887.2 650.0 891.7 C640.6 896.2 633.9 900.2 626.7 903.3 C619.5 906.3 612.3 908.9 606.7 910.0 C601.1 911.1 597.8 910.8 593.3 910.0 C588.8 909.2 585.0 907.5 580.0 905.0 C575.0 902.5 568.8 898.9 563.3 895.0 C557.8 891.1 551.1 887.0 546.7 881.7 C542.3 876.4 540.3 871.4 536.7 863.3 C533.1 855.2 528.6 842.5 525.0 833.3 C521.4 824.1 517.8 814.2 515.0 808.0 C512.2 801.8 510.5 800.1 508.3 796.0 C506.1 791.9 503.6 787.3 501.7 783.3 C499.8 779.2 497.9 775.2 496.7 771.7 C495.4 768.2 494.6 764.0 494.2 762.5 L520 735.8 Z" style="stroke-width:1.9;stroke:#2a2a2a"/>

<!-- 60_strip3.svg -->
<g transform="translate(465.00 555.00) scale(0.17501)">
<path class="o" fill="#6a6a6a" d="M80 670 Q85 650 100 640 L200 595 L400 505 Q500 455 600 400 Q700 345 800 285 Q900 220 1000 150 L1080 90 Q1105 68 1130 80 Q1145 92 1148 115 L1165 250 Q1168 290 1140 310 L1000 400 L820 510 L600 640 L440 730 L250 820 L240 870 L200 910 L130 940 L70 930 L50 900 L80 870 L70 800 L60 720 Z" style="stroke-width:1.7;stroke:#2e2e2e"/>
<!-- inner face -->
<path class="n" fill="#6e6e6e" d="M215 650 L400 560 L600 455 L800 338 L1000 205 L1060 165 L1075 300 L1000 355 L820 465 L600 592 L440 680 L225 785 Z"/>
<!-- inner light border -->
<path class="t" d="M110 690 L215 645 L400 553 L600 448 L800 332 L1000 198 L1085 135 Q1115 118 1120 150 L1135 270" style="stroke:#cfcfcf;stroke-width:1.4"/>
<path class="t" d="M225 790 L440 685 L600 597 L820 470 L1000 360 L1135 272" style="stroke:#c4c4c4;stroke-width:1.2"/>
<!-- ribs -->
<g>
<path class="t" style="stroke:#3a3a3a;stroke-width:1" d="M225 785 L235 640 M330 735 L345 590 M440 680 L460 530 M600 592 L625 435 M720 522 L745 365 M820 465 L850 300 M910 410 L940 240 M1000 355 L1020 190"/>
<path class="t" style="stroke:#3a3a3a;stroke-width:0.9" d="M235 640 L330 735 L345 590 L225 785 M345 590 L440 680 M460 530 L600 592 L625 435 L440 680 M625 435 L720 522 L745 365 L600 592 M850 300 L910 410 L940 240 L820 465 M940 240 L1000 355"/>
</g>
<path class="n" fill="#626262" d="M240 650 L325 725 L335 610 Z M465 540 L590 585 L615 450 Z M630 445 L712 515 L735 380 Z M855 310 L905 400 L930 255 Z"/>
<path class="n" fill="#787878" d="M235 770 L325 735 L240 660 Z M450 672 L595 592 L470 545 Z M610 585 L715 525 L635 455 Z M830 455 L905 410 L860 320 Z"/>
<!-- left end details -->
<path class="t" fill="#c8c8c8" d="M120 670 Q150 640 195 650 L210 690 L170 712 L130 705 Z" style="stroke:#3a3a3a"/>
<path class="t" fill="#8c8c8c" d="M95 720 L210 690 L215 780 L200 830 L110 850 Z" style="stroke:#3a3a3a"/>
<path class="n" fill="#5a5a5a" d="M105 790 L150 780 L155 830 L115 840 Z"/>
<path class="o" fill="#d6d6d6" d="M75 880 L130 900 L190 870 L215 835 L240 845 L235 875 L200 910 L130 940 L70 930 L52 902 Z" style="stroke-width:1.2"/>
<path class="t" fill="#9a9a9a" d="M35 705 L60 700 L75 740 L110 735 L112 750 L60 760 Z" style="stroke:#333"/>
<!-- right knob -->
<path class="o" fill="#c9c9c9" d="M1040 200 Q1050 165 1090 160 Q1135 170 1140 215 Q1140 260 1100 280 Q1060 285 1048 250 Z" style="stroke-width:1"/>
<ellipse cx="1105" cy="222" rx="28" ry="36" fill="#6a6a6a" class="t" style="stroke:#333"/>
<ellipse cx="1110" cy="224" rx="14" ry="18" fill="#3c3c3c"/>
<path class="t" d="M1000 215 L1040 215 M1000 250 L1040 245 M1000 285 L1045 275 M1000 320 L1050 300" style="stroke:#3a3a3a;stroke-width:1.2"/>
<!-- tabs -->
<path class="t" fill="#c4c4c4" d="M760 318 L800 308 L812 330 L790 350 L765 345 Z" style="stroke:#3a3a3a"/>
<path class="t" fill="#c4c4c4" d="M395 528 L435 518 L447 540 L425 560 L400 555 Z" style="stroke:#3a3a3a"/>
<path class="t" fill="#b8b8b8" d="M400 690 L430 675 L470 700 L472 730 L440 745 L410 730 Z" style="stroke:#3a3a3a"/>
<path class="t" fill="#b8b8b8" d="M775 480 L805 462 L840 485 L840 515 L810 532 L780 515 Z" style="stroke:#3a3a3a"/>
</g>
<g transform="translate(580.00 550.00) scale(0.10000)"><path class="o" fill="#6a6a6a" d="M125 232 Q135 205 160 190 L240 130 Q290 108 340 120 Q372 140 380 180 L382 228 L408 248 Q412 268 400 280 L352 290 L322 310 Q285 332 258 330 L222 318 L150 270 Q122 255 125 232 Z" style="stroke-width:1.6;stroke:#2a2a2a"/>
<path class="n" fill="#b4b4b4" d="M142 232 L215 168 L245 205 L232 262 L165 256 Z"/>
<path class="n" fill="#474747" d="M242 138 Q290 116 338 126 Q368 146 374 182 L378 228 L330 300 Q290 322 265 322 Q240 290 248 200 Z"/>
<path class="o" fill="#a8a8a8" d="M285 218 L320 202 L378 226 L404 250 L396 276 L350 284 L296 256 Z" style="stroke-width:1"/>
<path class="n" fill="#e0e0e0" d="M300 222 L322 212 L345 235 L320 250 Z"/></g>
<g transform="translate(480.00 670.00) scale(0.16667)"><path class="o" fill="#5c5c5c" d="M548 145 Q548 130 560 125 L610 108 L625 88 L700 62 Q725 58 728 80 L730 165 Q728 180 715 188 L585 250 Q555 255 550 235 Z" style="stroke-width:1.3"/>
<path class="t" fill="#fff" d="M578 158 Q578 150 586 147 L626 134 L640 116 L696 96 Q703 95 704 102 L706 158 Q705 165 698 169 L596 222 Q582 226 580 214 Z" style="stroke:#333"/>
<path class="t" d="M650 178 L745 220" style="stroke:#777;stroke-width:0.9"/></g>
<g fill="none" stroke="#8a8a8a" stroke-width="1" stroke-dasharray="14 3 3 3"><path d="M621 578 L651 589"/><path d="M668 597 L746 630"/><path d="M749 615 L767 622"/><path d="M711 643 L722 648"/></g>

<!-- 70_small.svg -->
<g fill="none" stroke="#777" stroke-width="0.9">
<path d="M690 878.5 L697 883.7"/>
<path d="M712.8 861 L729.4 869.8"/>
<path d="M742.5 843.5 L759 851.4"/>
<path d="M814.3 805 L816 814.6"/>
<path d="M824.5 203.2 L835.7 196.8"/>
<path d="M868.7 255.7 L882.2 247.5"/>
</g>
<g fill="none" stroke="#8a8a8a" stroke-width="1" stroke-dasharray="14 3 3 3">
<path d="M763.5 831.3 L782.8 839"/>
<path d="M837 770 L872 785.8"/>
<path d="M880 688 L946.5 716.5"/>
<path d="M880 718.5 L925 737.5"/>
<path d="M362 470 L375 463"/>
<path d="M401 524 L412 518"/>
</g>
<g transform="translate(690.00 770.00) scale(0.17501)">
<!-- part 10 -->
<path class="o" fill="#e6e6e6" d="M45 668 Q60 645 95 640 Q135 640 143 672 Q145 700 120 715 L80 730 Q50 725 38 700 Q35 680 45 668 Z" style="stroke-width:1.4"/>
<path class="n" fill="#b8b8b8" d="M110 645 Q138 648 140 675 Q140 698 118 712 L100 718 Q125 690 110 645 Z"/>
<path class="n" fill="#3f3f3f" d="M45 668 Q60 660 80 675 Q95 695 85 728 L78 728 Q50 722 40 700 Q37 680 45 668 Z"/>
<path class="n" fill="#8a8a8a" d="M50 680 Q62 675 72 690 Q78 705 72 718 Q55 712 48 698 Z"/>
<!-- part 9 -->
<path class="o" fill="#a0a0a0" d="M222 600 L250 565 L290 560 L318 590 L322 622 L290 630 L250 638 L228 620 Z" style="stroke-width:1.4"/>
<path class="n" fill="#d8d8d8" d="M255 575 L288 568 L310 592 L275 600 Z"/>
<path class="n" fill="#4f4f4f" d="M228 602 L250 572 L272 600 L250 612 Z M250 615 L315 600 L318 618 L252 632 Z"/>
<!-- part 8 -->
<path class="o" fill="#8c8c8c" d="M395 470 L410 445 L430 438 L470 470 L485 492 L470 510 L430 512 L400 495 Z" style="stroke-width:1.4"/>
<path class="n" fill="#e4e4e4" d="M432 455 L465 475 L478 492 L445 490 L425 475 Z"/>
<path class="n" fill="#444" d="M398 472 L412 450 L428 470 L420 495 L402 492 Z"/>
<!-- part 6 -->
<path class="o" fill="#7a7a7a" d="M540 372 L565 362 L580 340 L600 355 L612 378 L612 455 L590 462 L545 458 Z" style="stroke-width:1.4"/>
<path class="n" fill="#dcdcdc" d="M555 385 L585 378 L600 392 L600 440 L575 445 L555 440 Z"/>
<path class="n" fill="#5a5a5a" d="M572 388 L582 386 L584 440 L574 442 Z"/>
<!-- part 14 -->
<path class="o" fill="#5c5c5c" d="M650 395 L665 315 L700 290 L715 262 L760 258 L800 280 L830 345 L815 370 L720 435 L690 430 Z" style="stroke-width:1.5"/>
<path class="n" fill="#a8a8a8" d="M668 320 L700 296 L800 290 L822 345 L720 400 L672 380 Z"/>
<path class="n" fill="#7c7c7c" d="M735 320 L805 300 L820 345 L740 385 Z"/>
<path class="n" fill="#e2e2e2" d="M705 275 L760 265 L765 300 L712 305 Z"/>
<path class="n" fill="#444" d="M672 330 L690 325 L700 400 L680 392 Z M712 300 L730 298 L738 330 L716 332 Z"/>
<path class="t" d="M655 400 L718 428 L815 368" style="stroke:#222"/>
<!-- part 7 -->
<path class="o" fill="#bdbdbd" d="M1035 130 L1050 100 L1075 78 L1110 75 L1140 90 L1148 115 L1130 140 L1080 160 L1045 155 Z" style="stroke-width:1.4"/>
<path class="n" fill="#ececec" d="M1060 100 L1078 84 L1108 82 L1132 94 L1110 112 L1075 118 Z"/>
<path class="n" fill="#5a5a5a" d="M1040 132 L1075 122 L1112 116 L1140 100 L1144 116 L1128 136 L1080 154 L1048 150 Z"/>
<path class="n" fill="#d0d0d0" d="M1048 138 L1078 130 L1100 138 L1078 150 Z"/>
</g>
<g transform="translate(880.00 670.00) scale(0.16667)">
<!-- part 5 -->
<path class="o" fill="#5a5a5a" d="M430 225 L455 210 L472 230 L478 260 Q510 275 508 310 Q500 345 485 360 L490 390 L465 400 L448 385 L442 350 Q395 330 398 290 Q405 265 432 258 Z" style="stroke-width:1.5"/>
<path class="n" fill="#d8d8d8" d="M405 285 Q415 268 435 270 Q425 300 440 335 Q410 325 405 285 Z"/>
<ellipse cx="465" cy="305" rx="30" ry="36" fill="#777" class="t" style="stroke:#2a2a2a"/>
<path class="t" d="M455 290 L475 288 L470 305 L478 320 L458 322 L462 306 Z" fill="#555" style="stroke:#222"/>
<!-- part 12 -->
<path class="o" fill="#8a8a8a" d="M268 410 L290 385 L312 372 L330 392 L360 420 L368 445 L350 462 L300 465 L270 450 Z" style="stroke-width:1.5"/>
<path class="n" fill="#cfcfcf" d="M300 400 L325 398 L352 425 L355 445 L330 440 L305 425 Z"/>
<path class="n" fill="#444" d="M272 412 L290 392 L302 420 L300 455 L276 446 Z"/>
</g>
<g transform="translate(680.00 520.00) scale(0.16667)">
<!-- part 13 -->
<path class="o" fill="#5c5c5c" d="M280 515 L400 425 L420 422 L440 440 L470 435 L495 460 L480 480 L465 478 L455 520 L330 598 L295 600 L280 575 Z" style="stroke-width:1.5"/>
<path class="n" fill="#b5b5b5" d="M292 520 L405 435 L435 450 L450 515 L335 585 L330 540 Z"/>
<path class="n" fill="#8a8a8a" d="M335 545 L450 470 L452 515 L338 585 Z"/>
<path class="n" fill="#3c3c3c" d="M290 525 L330 545 L334 590 L298 592 L286 572 Z M370 520 L410 498 L412 530 L375 550 Z"/>
<path class="n" fill="#bbb" d="M300 555 L322 560 L322 580 L302 578 Z"/>
<!-- part 11 screw -->
<path class="o" fill="#4a4a4a" d="M68 690 L80 672 L105 665 L125 680 L128 700 L180 735 L190 745 L160 740 L120 722 L105 735 L82 725 Z" style="stroke-width:1.3"/>
<path class="n" fill="#9a9a9a" d="M85 680 L104 674 L116 686 L100 700 Z"/>
<path class="t" d="M130 705 L140 722 M145 714 L155 730 M160 722 L168 736" style="stroke:#ddd;stroke-width:0.7"/>
</g>
<g transform="translate(340.00 440.00) scale(0.11667)">
<!-- part 26 -->
<path class="o" fill="#c9c9c9" d="M100 275 Q120 255 150 235 L190 212 Q225 205 245 235 Q252 260 235 280 L150 330 Q120 340 105 320 Q92 295 100 275 Z" style="stroke-width:1.5"/>
<path class="n" fill="#efefef" d="M125 275 L190 232 L215 240 L150 290 Z"/>
<path class="n" fill="#5a5a5a" d="M190 215 Q222 210 240 235 Q248 258 232 276 L218 282 Q225 250 190 215 Z"/>
<path class="n" fill="#8a8a8a" d="M110 300 L150 318 L225 282 L232 278 L150 328 Q120 336 108 318 Z"/>
<!-- part 27 -->
<path class="o" fill="#dcdcdc" d="M432 725 Q445 698 480 692 Q510 690 525 715 L552 780 Q555 810 530 828 Q500 845 478 838 Q462 820 455 800 Z" style="stroke-width:1.5"/>
<path class="n" fill="#aaa" d="M500 695 Q518 700 525 718 L550 780 Q545 800 530 810 Q520 760 500 695 Z"/>
<path class="n" fill="#3e3e3e" d="M456 800 Q500 810 548 782 Q552 808 530 826 Q500 842 478 836 Q464 820 456 800 Z"/>
</g>
<g transform="translate(820.00 150.00) scale(0.14999)">
<!-- part 31 -->
<path class="o" fill="#d0d0d0" d="M100 275 L120 255 L195 228 Q218 228 226 250 Q228 270 212 285 L150 322 L128 328 Q105 320 98 298 Z" style="stroke-width:1.5"/>
<path class="n" fill="#3c3c3c" d="M100 276 L120 256 L140 250 Q160 275 152 320 L128 326 Q106 318 100 298 Z"/>
<path class="n" fill="#f2f2f2" d="M160 250 L195 236 L212 252 L175 272 Z"/>
<path class="t" d="M165 250 L172 300 M185 242 L192 290" style="stroke:#333"/>
<!-- part 32 -->
<path class="o" fill="#d2d2d2" d="M403 612 Q410 590 440 580 Q470 575 485 600 L503 645 Q505 665 490 678 Q465 692 440 685 Q425 670 420 655 Z" style="stroke-width:1.5"/>
<path class="n" fill="#9c9c9c" d="M460 580 Q478 582 485 600 L500 645 Q500 655 492 662 Q480 620 460 580 Z"/>
<path class="n" fill="#3e3e3e" d="M421 655 Q460 665 500 648 Q504 665 490 677 Q465 690 441 684 Q426 670 421 655 Z"/>
</g>

<!-- 90_labels.svg -->
<g id="braces" class="ln">
<path d="M300.8 292.5 L310.8 279.7 H360.8 L370.5 269.7 L380 279.7 H426.7 L435.8 292"/>
<path d="M420.5 285 V332.5"/>
<path d="M450.3 265.8 V277.5"/>
<path d="M323.3 405 L311.7 414.2 V465 L300.8 476.7 L312 487 V538 L324 548"/>
<path d="M318.3 421.3 H350.8"/>
<path d="M340 474.2 H351.7"/>
<path d="M341 527.6 H391"/>
<path d="M631 923.3 L640.6 936 H792 L803.8 948.6 L815.2 936 H966.7 L976.9 923.3"/>
<path d="M647.5 892.5 V931.7"/>
<path d="M610.1 540.1 V557.2"/>
<path d="M572.4 602.3 V617.4"/>
<path d="M558.3 701.3 H571.4"/>
<path d="M958 736.7 V911" style="stroke-width:1.25;stroke:#3c3c3c"/>
<path d="M934 748 V763.3"/>
<path d="M927 168.3 L938.5 177.8 V229.5 L948.2 239.7 L938.5 249 V301 L926.8 311.6"/>
<path d="M903.4 295.3 H935"/>
<path d="M857.5 187 H912.2"/>
<path d="M896.5 239.5 H910.7"/>
<path d="M739.2 575.8 V593.3"/>
<path d="M675.8 635.3 H691.7"/>
<path d="M836.1 821.3 H851.9"/>
<path d="M709.6 897.8 V912" style="stroke-width:1.25;stroke:#3c3c3c"/>
<path d="M741 882 V912" style="stroke-width:1.25;stroke:#3c3c3c"/>
<path d="M766.5 860.1 V912" style="stroke-width:1.25;stroke:#3c3c3c"/>
<path d="M794.4 851.4 V912"/>
<path d="M886 796.3 V911"/>
</g>
<g id="ticks" class="ln" style="stroke-width:1.1"><path d="M338.3 300.8 L340.8 297.5"/><path d="M364.7 300.8 L367.2 297.5"/><path d="M391.7 300.8 L394.2 297.5"/></g>
<g id="txt">
<text x="370.5" y="263.5">20</text>
<text x="324.5" y="298.3">21</text>
<text x="349.5" y="298.3">22</text>
<text x="376.2" y="298.3">23</text>
<text x="403.3" y="298.3">24</text>
<text x="450.3" y="261.7">21</text>
<text x="482.5" y="230">23</text>
<text x="482.5" y="251.7">24</text>
<text x="538.8" y="190">23</text>
<text x="538.8" y="210">24</text>
<text x="602.2" y="173.3">22</text>
<text x="687" y="125.7">21</text>
<text x="661.7" y="151.7">23</text>
<text x="661.7" y="173.3">24</text>
<text x="925.8" y="194.3">31</text>
<text x="925.5" y="246.7">32</text>
<text x="963.6" y="246.2">30</text>
<text x="287" y="480.8">25</text>
<text x="327.5" y="478.3">26</text>
<text x="327.5" y="534">27</text>
<text x="662.5" y="641.5">11</text>
<text x="738.8" y="572.7">13</text>
<text x="933.3" y="780.7">12</text>
<text x="864.2" y="828.3">14</text>
<text x="610" y="535">4</text>
<text x="572.5" y="595">3</text>
<text x="548.7" y="706.5">2</text>
<text x="706.5" y="930.8">10</text>
<text x="740.5" y="930.8">9</text>
<text x="767" y="930.8">8</text>
<text x="794" y="930.8">6</text>
<text x="816.8" y="930">2</text>
<text x="837.8" y="930">3</text>
<text x="858.6" y="930">4</text>
<text x="885" y="930">7</text>
<text x="958.4" y="932">5</text>
<text x="805" y="966.7">1</text>
</g>


</g>
<g id="hl">
<rect class="hl" x="600" y="515.6" width="20" height="26.5"/>
<rect class="hl" x="562.7" y="575.3" width="19.8" height="26.5"/>
<rect class="hl" x="538.9" y="686.6" width="19.6" height="26.5"/>
<rect class="hl" x="691" y="910" width="31" height="26.3"/>
<rect class="hl" x="731" y="910.5" width="19" height="25.8"/>
<rect class="hl" x="757" y="910" width="20" height="26.3"/>
<rect class="hl" x="784" y="910" width="19.8" height="26.3"/>
<rect class="hl" x="807" y="909.2" width="19.7" height="26.1"/>
<rect class="hl" x="828" y="909.2" width="19.7" height="26.1"/>
<rect class="hl" x="849" y="909.2" width="19.3" height="26.1"/>
<rect class="hl" x="875" y="909.2" width="19.9" height="26.1"/>
<rect class="hl" x="947.8" y="911.3" width="19.6" height="26.3"/>
<rect class="hl" x="795" y="946.2" width="20" height="26.3"/>
</g>
</svg>
</body></html>
